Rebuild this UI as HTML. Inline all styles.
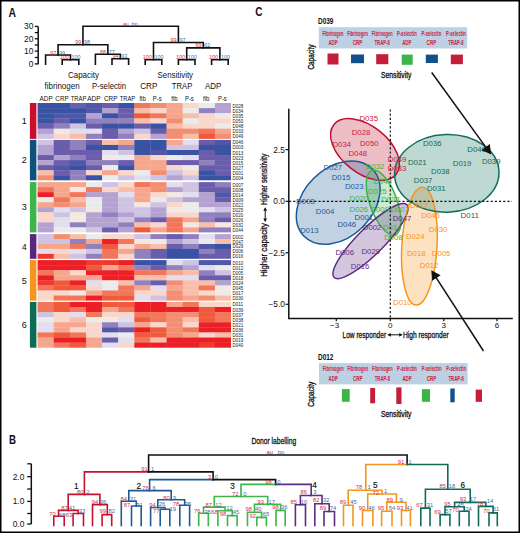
<!DOCTYPE html>
<html><head><meta charset="utf-8"><style>
html,body{margin:0;padding:0;background:#fff;}
body{width:520px;height:533px;overflow:hidden;font-family:"Liberation Sans",sans-serif;}
svg{display:block;}
</style></head><body>
<svg width="520" height="533" viewBox="0 0 520 533">
<rect x="0" y="0" width="520" height="533" fill="#fff"/>
<rect x="29.9" y="103.00" width="6.5" height="35.90" fill="#c8102e"/>
<rect x="37.60" y="103.00" width="16.42" height="5.43" fill="#3853a4"/>
<rect x="53.72" y="103.00" width="16.42" height="5.43" fill="#3853a4"/>
<rect x="69.84" y="103.00" width="16.42" height="5.43" fill="#6a5eac"/>
<rect x="85.96" y="103.00" width="16.42" height="5.43" fill="#5056a8"/>
<rect x="102.08" y="103.00" width="16.42" height="5.43" fill="#6a5eac"/>
<rect x="118.20" y="103.00" width="16.42" height="5.43" fill="#3853a4"/>
<rect x="134.32" y="103.00" width="16.42" height="5.43" fill="#f2765a"/>
<rect x="150.44" y="103.00" width="16.42" height="5.43" fill="#f48e72"/>
<rect x="166.56" y="103.00" width="16.42" height="5.43" fill="#f7a68e"/>
<rect x="182.68" y="103.00" width="16.42" height="5.43" fill="#fad7cb"/>
<rect x="198.80" y="103.00" width="16.42" height="5.43" fill="#ecebec"/>
<rect x="214.92" y="103.00" width="16.12" height="5.43" fill="#b4a3d1"/>
<text x="232.4" y="107.56" font-size="4.7" font-family="Liberation Sans, sans-serif" fill="#222" textLength="10.8" lengthAdjust="spacingAndGlyphs">D028</text>
<rect x="37.60" y="108.13" width="16.42" height="5.43" fill="#3853a4"/>
<rect x="53.72" y="108.13" width="16.42" height="5.43" fill="#3853a4"/>
<rect x="69.84" y="108.13" width="16.42" height="5.43" fill="#3853a4"/>
<rect x="85.96" y="108.13" width="16.42" height="5.43" fill="#5056a8"/>
<rect x="102.08" y="108.13" width="16.42" height="5.43" fill="#b4a3d1"/>
<rect x="118.20" y="108.13" width="16.42" height="5.43" fill="#6a5eac"/>
<rect x="134.32" y="108.13" width="16.42" height="5.43" fill="#f9bea9"/>
<rect x="150.44" y="108.13" width="16.42" height="5.43" fill="#fad7cb"/>
<rect x="166.56" y="108.13" width="16.42" height="5.43" fill="#f7a68e"/>
<rect x="182.68" y="108.13" width="16.42" height="5.43" fill="#ecebec"/>
<rect x="198.80" y="108.13" width="16.42" height="5.43" fill="#9080be"/>
<rect x="214.92" y="108.13" width="16.12" height="5.43" fill="#b4a3d1"/>
<text x="232.4" y="112.69" font-size="4.7" font-family="Liberation Sans, sans-serif" fill="#222" textLength="10.8" lengthAdjust="spacingAndGlyphs">D034</text>
<rect x="37.60" y="113.26" width="16.42" height="5.43" fill="#3853a4"/>
<rect x="53.72" y="113.26" width="16.42" height="5.43" fill="#5056a8"/>
<rect x="69.84" y="113.26" width="16.42" height="5.43" fill="#5056a8"/>
<rect x="85.96" y="113.26" width="16.42" height="5.43" fill="#b4a3d1"/>
<rect x="102.08" y="113.26" width="16.42" height="5.43" fill="#3853a4"/>
<rect x="118.20" y="113.26" width="16.42" height="5.43" fill="#6a5eac"/>
<rect x="134.32" y="113.26" width="16.42" height="5.43" fill="#ef5a3c"/>
<rect x="150.44" y="113.26" width="16.42" height="5.43" fill="#f2765a"/>
<rect x="166.56" y="113.26" width="16.42" height="5.43" fill="#f7a68e"/>
<rect x="182.68" y="113.26" width="16.42" height="5.43" fill="#f9bea9"/>
<rect x="198.80" y="113.26" width="16.42" height="5.43" fill="#fad7cb"/>
<rect x="214.92" y="113.26" width="16.12" height="5.43" fill="#ecebec"/>
<text x="232.4" y="117.82" font-size="4.7" font-family="Liberation Sans, sans-serif" fill="#222" textLength="10.8" lengthAdjust="spacingAndGlyphs">D035</text>
<rect x="37.60" y="118.39" width="16.42" height="5.43" fill="#3853a4"/>
<rect x="53.72" y="118.39" width="16.42" height="5.43" fill="#6a5eac"/>
<rect x="69.84" y="118.39" width="16.42" height="5.43" fill="#3853a4"/>
<rect x="85.96" y="118.39" width="16.42" height="5.43" fill="#9080be"/>
<rect x="102.08" y="118.39" width="16.42" height="5.43" fill="#9080be"/>
<rect x="118.20" y="118.39" width="16.42" height="5.43" fill="#9080be"/>
<rect x="134.32" y="118.39" width="16.42" height="5.43" fill="#f9bea9"/>
<rect x="150.44" y="118.39" width="16.42" height="5.43" fill="#fad7cb"/>
<rect x="166.56" y="118.39" width="16.42" height="5.43" fill="#f48e72"/>
<rect x="182.68" y="118.39" width="16.42" height="5.43" fill="#ecebec"/>
<rect x="198.80" y="118.39" width="16.42" height="5.43" fill="#fad7cb"/>
<rect x="214.92" y="118.39" width="16.12" height="5.43" fill="#fad7cb"/>
<text x="232.4" y="122.95" font-size="4.7" font-family="Liberation Sans, sans-serif" fill="#222" textLength="10.8" lengthAdjust="spacingAndGlyphs">D050</text>
<rect x="37.60" y="123.51" width="16.42" height="5.43" fill="#6a5eac"/>
<rect x="53.72" y="123.51" width="16.42" height="5.43" fill="#9080be"/>
<rect x="69.84" y="123.51" width="16.42" height="5.43" fill="#cec3e2"/>
<rect x="85.96" y="123.51" width="16.42" height="5.43" fill="#6a5eac"/>
<rect x="102.08" y="123.51" width="16.42" height="5.43" fill="#3853a4"/>
<rect x="118.20" y="123.51" width="16.42" height="5.43" fill="#3853a4"/>
<rect x="134.32" y="123.51" width="16.42" height="5.43" fill="#6a5eac"/>
<rect x="150.44" y="123.51" width="16.42" height="5.43" fill="#3853a4"/>
<rect x="166.56" y="123.51" width="16.42" height="5.43" fill="#f9bea9"/>
<rect x="182.68" y="123.51" width="16.42" height="5.43" fill="#fad7cb"/>
<rect x="198.80" y="123.51" width="16.42" height="5.43" fill="#fad7cb"/>
<rect x="214.92" y="123.51" width="16.12" height="5.43" fill="#ecebec"/>
<text x="232.4" y="128.08" font-size="4.7" font-family="Liberation Sans, sans-serif" fill="#222" textLength="10.8" lengthAdjust="spacingAndGlyphs">D048</text>
<rect x="37.60" y="128.64" width="16.42" height="5.43" fill="#b4a3d1"/>
<rect x="53.72" y="128.64" width="16.42" height="5.43" fill="#f5e8e3"/>
<rect x="69.84" y="128.64" width="16.42" height="5.43" fill="#e2ddef"/>
<rect x="85.96" y="128.64" width="16.42" height="5.43" fill="#e2ddef"/>
<rect x="102.08" y="128.64" width="16.42" height="5.43" fill="#6a5eac"/>
<rect x="118.20" y="128.64" width="16.42" height="5.43" fill="#b4a3d1"/>
<rect x="134.32" y="128.64" width="16.42" height="5.43" fill="#cec3e2"/>
<rect x="150.44" y="128.64" width="16.42" height="5.43" fill="#6a5eac"/>
<rect x="166.56" y="128.64" width="16.42" height="5.43" fill="#f48e72"/>
<rect x="182.68" y="128.64" width="16.42" height="5.43" fill="#f48e72"/>
<rect x="198.80" y="128.64" width="16.42" height="5.43" fill="#f2765a"/>
<rect x="214.92" y="128.64" width="16.12" height="5.43" fill="#f7a68e"/>
<text x="232.4" y="133.21" font-size="4.7" font-family="Liberation Sans, sans-serif" fill="#222" textLength="10.8" lengthAdjust="spacingAndGlyphs">D033</text>
<rect x="37.60" y="133.77" width="16.42" height="5.13" fill="#cec3e2"/>
<rect x="53.72" y="133.77" width="16.42" height="5.13" fill="#fad7cb"/>
<rect x="69.84" y="133.77" width="16.42" height="5.13" fill="#f9bea9"/>
<rect x="85.96" y="133.77" width="16.42" height="5.13" fill="#9080be"/>
<rect x="102.08" y="133.77" width="16.42" height="5.13" fill="#6a5eac"/>
<rect x="118.20" y="133.77" width="16.42" height="5.13" fill="#9080be"/>
<rect x="134.32" y="133.77" width="16.42" height="5.13" fill="#fad7cb"/>
<rect x="150.44" y="133.77" width="16.42" height="5.13" fill="#b4a3d1"/>
<rect x="166.56" y="133.77" width="16.42" height="5.13" fill="#f48e72"/>
<rect x="182.68" y="133.77" width="16.42" height="5.13" fill="#f9bea9"/>
<rect x="198.80" y="133.77" width="16.42" height="5.13" fill="#ef5a3c"/>
<rect x="214.92" y="133.77" width="16.12" height="5.13" fill="#f48e72"/>
<text x="232.4" y="138.34" font-size="4.7" font-family="Liberation Sans, sans-serif" fill="#222" textLength="10.8" lengthAdjust="spacingAndGlyphs">D049</text>
<text x="24.2" y="124.15" font-size="9" font-family="Liberation Sans, sans-serif" fill="#111" text-anchor="middle">1</text>
<rect x="29.9" y="139.90" width="6.5" height="40.40" fill="#10507f"/>
<rect x="37.60" y="139.90" width="16.42" height="5.35" fill="#cec3e2"/>
<rect x="53.72" y="139.90" width="16.42" height="5.35" fill="#6a5eac"/>
<rect x="69.84" y="139.90" width="16.42" height="5.35" fill="#9080be"/>
<rect x="85.96" y="139.90" width="16.42" height="5.35" fill="#6a5eac"/>
<rect x="102.08" y="139.90" width="16.42" height="5.35" fill="#f9bea9"/>
<rect x="118.20" y="139.90" width="16.42" height="5.35" fill="#f7a68e"/>
<rect x="134.32" y="139.90" width="16.42" height="5.35" fill="#3853a4"/>
<rect x="150.44" y="139.90" width="16.42" height="5.35" fill="#3853a4"/>
<rect x="166.56" y="139.90" width="16.42" height="5.35" fill="#f7a68e"/>
<rect x="182.68" y="139.90" width="16.42" height="5.35" fill="#e2ddef"/>
<rect x="198.80" y="139.90" width="16.42" height="5.35" fill="#6a5eac"/>
<rect x="214.92" y="139.90" width="16.12" height="5.35" fill="#5056a8"/>
<text x="232.4" y="144.43" font-size="4.7" font-family="Liberation Sans, sans-serif" fill="#222" textLength="10.8" lengthAdjust="spacingAndGlyphs">D046</text>
<rect x="37.60" y="144.95" width="16.42" height="5.35" fill="#b4a3d1"/>
<rect x="53.72" y="144.95" width="16.42" height="5.35" fill="#6a5eac"/>
<rect x="69.84" y="144.95" width="16.42" height="5.35" fill="#9080be"/>
<rect x="85.96" y="144.95" width="16.42" height="5.35" fill="#3853a4"/>
<rect x="102.08" y="144.95" width="16.42" height="5.35" fill="#3853a4"/>
<rect x="118.20" y="144.95" width="16.42" height="5.35" fill="#9080be"/>
<rect x="134.32" y="144.95" width="16.42" height="5.35" fill="#3853a4"/>
<rect x="150.44" y="144.95" width="16.42" height="5.35" fill="#3853a4"/>
<rect x="166.56" y="144.95" width="16.42" height="5.35" fill="#cec3e2"/>
<rect x="182.68" y="144.95" width="16.42" height="5.35" fill="#cec3e2"/>
<rect x="198.80" y="144.95" width="16.42" height="5.35" fill="#3853a4"/>
<rect x="214.92" y="144.95" width="16.12" height="5.35" fill="#3853a4"/>
<text x="232.4" y="149.48" font-size="4.7" font-family="Liberation Sans, sans-serif" fill="#222" textLength="10.8" lengthAdjust="spacingAndGlyphs">D003</text>
<rect x="37.60" y="150.00" width="16.42" height="5.35" fill="#b4a3d1"/>
<rect x="53.72" y="150.00" width="16.42" height="5.35" fill="#6a5eac"/>
<rect x="69.84" y="150.00" width="16.42" height="5.35" fill="#6a5eac"/>
<rect x="85.96" y="150.00" width="16.42" height="5.35" fill="#6a5eac"/>
<rect x="102.08" y="150.00" width="16.42" height="5.35" fill="#e2ddef"/>
<rect x="118.20" y="150.00" width="16.42" height="5.35" fill="#cec3e2"/>
<rect x="134.32" y="150.00" width="16.42" height="5.35" fill="#3853a4"/>
<rect x="150.44" y="150.00" width="16.42" height="5.35" fill="#5056a8"/>
<rect x="166.56" y="150.00" width="16.42" height="5.35" fill="#3853a4"/>
<rect x="182.68" y="150.00" width="16.42" height="5.35" fill="#3853a4"/>
<rect x="198.80" y="150.00" width="16.42" height="5.35" fill="#6a5eac"/>
<rect x="214.92" y="150.00" width="16.12" height="5.35" fill="#3853a4"/>
<text x="232.4" y="154.53" font-size="4.7" font-family="Liberation Sans, sans-serif" fill="#222" textLength="10.8" lengthAdjust="spacingAndGlyphs">D013</text>
<rect x="37.60" y="155.05" width="16.42" height="5.35" fill="#6a5eac"/>
<rect x="53.72" y="155.05" width="16.42" height="5.35" fill="#b4a3d1"/>
<rect x="69.84" y="155.05" width="16.42" height="5.35" fill="#9080be"/>
<rect x="85.96" y="155.05" width="16.42" height="5.35" fill="#6a5eac"/>
<rect x="102.08" y="155.05" width="16.42" height="5.35" fill="#f5e8e3"/>
<rect x="118.20" y="155.05" width="16.42" height="5.35" fill="#ecebec"/>
<rect x="134.32" y="155.05" width="16.42" height="5.35" fill="#f7a68e"/>
<rect x="150.44" y="155.05" width="16.42" height="5.35" fill="#fad7cb"/>
<rect x="166.56" y="155.05" width="16.42" height="5.35" fill="#ecebec"/>
<rect x="182.68" y="155.05" width="16.42" height="5.35" fill="#e2ddef"/>
<rect x="198.80" y="155.05" width="16.42" height="5.35" fill="#6a5eac"/>
<rect x="214.92" y="155.05" width="16.12" height="5.35" fill="#6a5eac"/>
<text x="232.4" y="159.58" font-size="4.7" font-family="Liberation Sans, sans-serif" fill="#222" textLength="10.8" lengthAdjust="spacingAndGlyphs">D023</text>
<rect x="37.60" y="160.10" width="16.42" height="5.35" fill="#b4a3d1"/>
<rect x="53.72" y="160.10" width="16.42" height="5.35" fill="#6a5eac"/>
<rect x="69.84" y="160.10" width="16.42" height="5.35" fill="#5056a8"/>
<rect x="85.96" y="160.10" width="16.42" height="5.35" fill="#9080be"/>
<rect x="102.08" y="160.10" width="16.42" height="5.35" fill="#9080be"/>
<rect x="118.20" y="160.10" width="16.42" height="5.35" fill="#6a5eac"/>
<rect x="134.32" y="160.10" width="16.42" height="5.35" fill="#f7a68e"/>
<rect x="150.44" y="160.10" width="16.42" height="5.35" fill="#f7a68e"/>
<rect x="166.56" y="160.10" width="16.42" height="5.35" fill="#6a5eac"/>
<rect x="182.68" y="160.10" width="16.42" height="5.35" fill="#6a5eac"/>
<rect x="198.80" y="160.10" width="16.42" height="5.35" fill="#9080be"/>
<rect x="214.92" y="160.10" width="16.12" height="5.35" fill="#6a5eac"/>
<text x="232.4" y="164.63" font-size="4.7" font-family="Liberation Sans, sans-serif" fill="#222" textLength="10.8" lengthAdjust="spacingAndGlyphs">D015</text>
<rect x="37.60" y="165.15" width="16.42" height="5.35" fill="#6a5eac"/>
<rect x="53.72" y="165.15" width="16.42" height="5.35" fill="#5056a8"/>
<rect x="69.84" y="165.15" width="16.42" height="5.35" fill="#3853a4"/>
<rect x="85.96" y="165.15" width="16.42" height="5.35" fill="#6a5eac"/>
<rect x="102.08" y="165.15" width="16.42" height="5.35" fill="#ecebec"/>
<rect x="118.20" y="165.15" width="16.42" height="5.35" fill="#3853a4"/>
<rect x="134.32" y="165.15" width="16.42" height="5.35" fill="#f7a68e"/>
<rect x="150.44" y="165.15" width="16.42" height="5.35" fill="#f7a68e"/>
<rect x="166.56" y="165.15" width="16.42" height="5.35" fill="#fad7cb"/>
<rect x="182.68" y="165.15" width="16.42" height="5.35" fill="#ecebec"/>
<rect x="198.80" y="165.15" width="16.42" height="5.35" fill="#6a5eac"/>
<rect x="214.92" y="165.15" width="16.12" height="5.35" fill="#6a5eac"/>
<text x="232.4" y="169.68" font-size="4.7" font-family="Liberation Sans, sans-serif" fill="#222" textLength="10.8" lengthAdjust="spacingAndGlyphs">D027</text>
<rect x="37.60" y="170.20" width="16.42" height="5.35" fill="#f9bea9"/>
<rect x="53.72" y="170.20" width="16.42" height="5.35" fill="#6a5eac"/>
<rect x="69.84" y="170.20" width="16.42" height="5.35" fill="#9080be"/>
<rect x="85.96" y="170.20" width="16.42" height="5.35" fill="#fad7cb"/>
<rect x="102.08" y="170.20" width="16.42" height="5.35" fill="#f7a68e"/>
<rect x="118.20" y="170.20" width="16.42" height="5.35" fill="#fad7cb"/>
<rect x="134.32" y="170.20" width="16.42" height="5.35" fill="#ecebec"/>
<rect x="150.44" y="170.20" width="16.42" height="5.35" fill="#f48e72"/>
<rect x="166.56" y="170.20" width="16.42" height="5.35" fill="#cec3e2"/>
<rect x="182.68" y="170.20" width="16.42" height="5.35" fill="#fad7cb"/>
<rect x="198.80" y="170.20" width="16.42" height="5.35" fill="#3853a4"/>
<rect x="214.92" y="170.20" width="16.12" height="5.35" fill="#6a5eac"/>
<text x="232.4" y="174.73" font-size="4.7" font-family="Liberation Sans, sans-serif" fill="#222" textLength="10.8" lengthAdjust="spacingAndGlyphs">D001</text>
<rect x="37.60" y="175.25" width="16.42" height="5.05" fill="#f48e72"/>
<rect x="53.72" y="175.25" width="16.42" height="5.05" fill="#3853a4"/>
<rect x="69.84" y="175.25" width="16.42" height="5.05" fill="#9080be"/>
<rect x="85.96" y="175.25" width="16.42" height="5.05" fill="#3853a4"/>
<rect x="102.08" y="175.25" width="16.42" height="5.05" fill="#ecebec"/>
<rect x="118.20" y="175.25" width="16.42" height="5.05" fill="#cec3e2"/>
<rect x="134.32" y="175.25" width="16.42" height="5.05" fill="#e2ddef"/>
<rect x="150.44" y="175.25" width="16.42" height="5.05" fill="#cec3e2"/>
<rect x="166.56" y="175.25" width="16.42" height="5.05" fill="#b4a3d1"/>
<rect x="182.68" y="175.25" width="16.42" height="5.05" fill="#cec3e2"/>
<rect x="198.80" y="175.25" width="16.42" height="5.05" fill="#3853a4"/>
<rect x="214.92" y="175.25" width="16.12" height="5.05" fill="#3853a4"/>
<text x="232.4" y="179.78" font-size="4.7" font-family="Liberation Sans, sans-serif" fill="#222" textLength="10.8" lengthAdjust="spacingAndGlyphs">D004</text>
<text x="24.2" y="163.30" font-size="9" font-family="Liberation Sans, sans-serif" fill="#111" text-anchor="middle">2</text>
<rect x="29.9" y="182.10" width="6.5" height="50.30" fill="#3db54a"/>
<rect x="37.60" y="182.10" width="16.42" height="5.33" fill="#f7a68e"/>
<rect x="53.72" y="182.10" width="16.42" height="5.33" fill="#f7a68e"/>
<rect x="69.84" y="182.10" width="16.42" height="5.33" fill="#f7a68e"/>
<rect x="85.96" y="182.10" width="16.42" height="5.33" fill="#ecebec"/>
<rect x="102.08" y="182.10" width="16.42" height="5.33" fill="#cec3e2"/>
<rect x="118.20" y="182.10" width="16.42" height="5.33" fill="#fad7cb"/>
<rect x="134.32" y="182.10" width="16.42" height="5.33" fill="#f2765a"/>
<rect x="150.44" y="182.10" width="16.42" height="5.33" fill="#f48e72"/>
<rect x="166.56" y="182.10" width="16.42" height="5.33" fill="#e2ddef"/>
<rect x="182.68" y="182.10" width="16.42" height="5.33" fill="#cec3e2"/>
<rect x="198.80" y="182.10" width="16.42" height="5.33" fill="#6a5eac"/>
<rect x="214.92" y="182.10" width="16.12" height="5.33" fill="#9080be"/>
<text x="232.4" y="186.62" font-size="4.7" font-family="Liberation Sans, sans-serif" fill="#222" textLength="10.8" lengthAdjust="spacingAndGlyphs">D007</text>
<rect x="37.60" y="187.13" width="16.42" height="5.33" fill="#f2765a"/>
<rect x="53.72" y="187.13" width="16.42" height="5.33" fill="#f7a68e"/>
<rect x="69.84" y="187.13" width="16.42" height="5.33" fill="#f5e8e3"/>
<rect x="85.96" y="187.13" width="16.42" height="5.33" fill="#f2765a"/>
<rect x="102.08" y="187.13" width="16.42" height="5.33" fill="#fad7cb"/>
<rect x="118.20" y="187.13" width="16.42" height="5.33" fill="#f9bea9"/>
<rect x="134.32" y="187.13" width="16.42" height="5.33" fill="#f7a68e"/>
<rect x="150.44" y="187.13" width="16.42" height="5.33" fill="#f48e72"/>
<rect x="166.56" y="187.13" width="16.42" height="5.33" fill="#b4a3d1"/>
<rect x="182.68" y="187.13" width="16.42" height="5.33" fill="#cec3e2"/>
<rect x="198.80" y="187.13" width="16.42" height="5.33" fill="#6a5eac"/>
<rect x="214.92" y="187.13" width="16.12" height="5.33" fill="#6a5eac"/>
<text x="232.4" y="191.64" font-size="4.7" font-family="Liberation Sans, sans-serif" fill="#222" textLength="10.8" lengthAdjust="spacingAndGlyphs">D008</text>
<rect x="37.60" y="192.16" width="16.42" height="5.33" fill="#ec1f27"/>
<rect x="53.72" y="192.16" width="16.42" height="5.33" fill="#f7a68e"/>
<rect x="69.84" y="192.16" width="16.42" height="5.33" fill="#f2765a"/>
<rect x="85.96" y="192.16" width="16.42" height="5.33" fill="#b4a3d1"/>
<rect x="102.08" y="192.16" width="16.42" height="5.33" fill="#b4a3d1"/>
<rect x="118.20" y="192.16" width="16.42" height="5.33" fill="#e2ddef"/>
<rect x="134.32" y="192.16" width="16.42" height="5.33" fill="#f7a68e"/>
<rect x="150.44" y="192.16" width="16.42" height="5.33" fill="#fad7cb"/>
<rect x="166.56" y="192.16" width="16.42" height="5.33" fill="#f5e8e3"/>
<rect x="182.68" y="192.16" width="16.42" height="5.33" fill="#e2ddef"/>
<rect x="198.80" y="192.16" width="16.42" height="5.33" fill="#b4a3d1"/>
<rect x="214.92" y="192.16" width="16.12" height="5.33" fill="#5056a8"/>
<text x="232.4" y="196.68" font-size="4.7" font-family="Liberation Sans, sans-serif" fill="#222" textLength="10.8" lengthAdjust="spacingAndGlyphs">D014</text>
<rect x="37.60" y="197.19" width="16.42" height="5.33" fill="#ecebec"/>
<rect x="53.72" y="197.19" width="16.42" height="5.33" fill="#f2765a"/>
<rect x="69.84" y="197.19" width="16.42" height="5.33" fill="#f9bea9"/>
<rect x="85.96" y="197.19" width="16.42" height="5.33" fill="#ecebec"/>
<rect x="102.08" y="197.19" width="16.42" height="5.33" fill="#b4a3d1"/>
<rect x="118.20" y="197.19" width="16.42" height="5.33" fill="#cec3e2"/>
<rect x="134.32" y="197.19" width="16.42" height="5.33" fill="#f7a68e"/>
<rect x="150.44" y="197.19" width="16.42" height="5.33" fill="#ecebec"/>
<rect x="166.56" y="197.19" width="16.42" height="5.33" fill="#cec3e2"/>
<rect x="182.68" y="197.19" width="16.42" height="5.33" fill="#b4a3d1"/>
<rect x="198.80" y="197.19" width="16.42" height="5.33" fill="#b4a3d1"/>
<rect x="214.92" y="197.19" width="16.12" height="5.33" fill="#6a5eac"/>
<text x="232.4" y="201.70" font-size="4.7" font-family="Liberation Sans, sans-serif" fill="#222" textLength="10.8" lengthAdjust="spacingAndGlyphs">D009</text>
<rect x="37.60" y="202.22" width="16.42" height="5.33" fill="#f7a68e"/>
<rect x="53.72" y="202.22" width="16.42" height="5.33" fill="#f48e72"/>
<rect x="69.84" y="202.22" width="16.42" height="5.33" fill="#f7a68e"/>
<rect x="85.96" y="202.22" width="16.42" height="5.33" fill="#ecebec"/>
<rect x="102.08" y="202.22" width="16.42" height="5.33" fill="#b4a3d1"/>
<rect x="118.20" y="202.22" width="16.42" height="5.33" fill="#cec3e2"/>
<rect x="134.32" y="202.22" width="16.42" height="5.33" fill="#f5e8e3"/>
<rect x="150.44" y="202.22" width="16.42" height="5.33" fill="#cec3e2"/>
<rect x="166.56" y="202.22" width="16.42" height="5.33" fill="#fad7cb"/>
<rect x="182.68" y="202.22" width="16.42" height="5.33" fill="#ecebec"/>
<rect x="198.80" y="202.22" width="16.42" height="5.33" fill="#b4a3d1"/>
<rect x="214.92" y="202.22" width="16.12" height="5.33" fill="#b4a3d1"/>
<text x="232.4" y="206.74" font-size="4.7" font-family="Liberation Sans, sans-serif" fill="#222" textLength="10.8" lengthAdjust="spacingAndGlyphs">D022</text>
<rect x="37.60" y="207.25" width="16.42" height="5.33" fill="#b4a3d1"/>
<rect x="53.72" y="207.25" width="16.42" height="5.33" fill="#e2ddef"/>
<rect x="69.84" y="207.25" width="16.42" height="5.33" fill="#cec3e2"/>
<rect x="85.96" y="207.25" width="16.42" height="5.33" fill="#f5e8e3"/>
<rect x="102.08" y="207.25" width="16.42" height="5.33" fill="#b4a3d1"/>
<rect x="118.20" y="207.25" width="16.42" height="5.33" fill="#cec3e2"/>
<rect x="134.32" y="207.25" width="16.42" height="5.33" fill="#cec3e2"/>
<rect x="150.44" y="207.25" width="16.42" height="5.33" fill="#b4a3d1"/>
<rect x="166.56" y="207.25" width="16.42" height="5.33" fill="#f5e8e3"/>
<rect x="182.68" y="207.25" width="16.42" height="5.33" fill="#ecebec"/>
<rect x="198.80" y="207.25" width="16.42" height="5.33" fill="#e2ddef"/>
<rect x="214.92" y="207.25" width="16.12" height="5.33" fill="#cec3e2"/>
<text x="232.4" y="211.76" font-size="4.7" font-family="Liberation Sans, sans-serif" fill="#222" textLength="10.8" lengthAdjust="spacingAndGlyphs">D025</text>
<rect x="37.60" y="212.28" width="16.42" height="5.33" fill="#fad7cb"/>
<rect x="53.72" y="212.28" width="16.42" height="5.33" fill="#cec3e2"/>
<rect x="69.84" y="212.28" width="16.42" height="5.33" fill="#f5e8e3"/>
<rect x="85.96" y="212.28" width="16.42" height="5.33" fill="#b4a3d1"/>
<rect x="102.08" y="212.28" width="16.42" height="5.33" fill="#9080be"/>
<rect x="118.20" y="212.28" width="16.42" height="5.33" fill="#b4a3d1"/>
<rect x="134.32" y="212.28" width="16.42" height="5.33" fill="#cec3e2"/>
<rect x="150.44" y="212.28" width="16.42" height="5.33" fill="#b4a3d1"/>
<rect x="166.56" y="212.28" width="16.42" height="5.33" fill="#fad7cb"/>
<rect x="182.68" y="212.28" width="16.42" height="5.33" fill="#fad7cb"/>
<rect x="198.80" y="212.28" width="16.42" height="5.33" fill="#9080be"/>
<rect x="214.92" y="212.28" width="16.12" height="5.33" fill="#9080be"/>
<text x="232.4" y="216.80" font-size="4.7" font-family="Liberation Sans, sans-serif" fill="#222" textLength="10.8" lengthAdjust="spacingAndGlyphs">D020</text>
<rect x="37.60" y="217.31" width="16.42" height="5.33" fill="#fad7cb"/>
<rect x="53.72" y="217.31" width="16.42" height="5.33" fill="#e2ddef"/>
<rect x="69.84" y="217.31" width="16.42" height="5.33" fill="#f5e8e3"/>
<rect x="85.96" y="217.31" width="16.42" height="5.33" fill="#b4a3d1"/>
<rect x="102.08" y="217.31" width="16.42" height="5.33" fill="#b4a3d1"/>
<rect x="118.20" y="217.31" width="16.42" height="5.33" fill="#cec3e2"/>
<rect x="134.32" y="217.31" width="16.42" height="5.33" fill="#9080be"/>
<rect x="150.44" y="217.31" width="16.42" height="5.33" fill="#6a5eac"/>
<rect x="166.56" y="217.31" width="16.42" height="5.33" fill="#f2765a"/>
<rect x="182.68" y="217.31" width="16.42" height="5.33" fill="#f7a68e"/>
<rect x="198.80" y="217.31" width="16.42" height="5.33" fill="#9080be"/>
<rect x="214.92" y="217.31" width="16.12" height="5.33" fill="#6a5eac"/>
<text x="232.4" y="221.82" font-size="4.7" font-family="Liberation Sans, sans-serif" fill="#222" textLength="10.8" lengthAdjust="spacingAndGlyphs">D026</text>
<rect x="37.60" y="222.34" width="16.42" height="5.33" fill="#b4a3d1"/>
<rect x="53.72" y="222.34" width="16.42" height="5.33" fill="#e2ddef"/>
<rect x="69.84" y="222.34" width="16.42" height="5.33" fill="#9080be"/>
<rect x="85.96" y="222.34" width="16.42" height="5.33" fill="#b4a3d1"/>
<rect x="102.08" y="222.34" width="16.42" height="5.33" fill="#b4a3d1"/>
<rect x="118.20" y="222.34" width="16.42" height="5.33" fill="#9080be"/>
<rect x="134.32" y="222.34" width="16.42" height="5.33" fill="#f9bea9"/>
<rect x="150.44" y="222.34" width="16.42" height="5.33" fill="#fad7cb"/>
<rect x="166.56" y="222.34" width="16.42" height="5.33" fill="#f2765a"/>
<rect x="182.68" y="222.34" width="16.42" height="5.33" fill="#f5e8e3"/>
<rect x="198.80" y="222.34" width="16.42" height="5.33" fill="#f9bea9"/>
<rect x="214.92" y="222.34" width="16.12" height="5.33" fill="#f5e8e3"/>
<text x="232.4" y="226.86" font-size="4.7" font-family="Liberation Sans, sans-serif" fill="#222" textLength="10.8" lengthAdjust="spacingAndGlyphs">D032</text>
<rect x="37.60" y="227.37" width="16.42" height="5.03" fill="#b4a3d1"/>
<rect x="53.72" y="227.37" width="16.42" height="5.03" fill="#ecebec"/>
<rect x="69.84" y="227.37" width="16.42" height="5.03" fill="#ecebec"/>
<rect x="85.96" y="227.37" width="16.42" height="5.03" fill="#cec3e2"/>
<rect x="102.08" y="227.37" width="16.42" height="5.03" fill="#6a5eac"/>
<rect x="118.20" y="227.37" width="16.42" height="5.03" fill="#b4a3d1"/>
<rect x="134.32" y="227.37" width="16.42" height="5.03" fill="#ef5a3c"/>
<rect x="150.44" y="227.37" width="16.42" height="5.03" fill="#f7a68e"/>
<rect x="166.56" y="227.37" width="16.42" height="5.03" fill="#f2765a"/>
<rect x="182.68" y="227.37" width="16.42" height="5.03" fill="#f7a68e"/>
<rect x="198.80" y="227.37" width="16.42" height="5.03" fill="#9080be"/>
<rect x="214.92" y="227.37" width="16.12" height="5.03" fill="#9080be"/>
<text x="232.4" y="231.88" font-size="4.7" font-family="Liberation Sans, sans-serif" fill="#222" textLength="10.8" lengthAdjust="spacingAndGlyphs">D044</text>
<text x="24.2" y="210.45" font-size="9" font-family="Liberation Sans, sans-serif" fill="#111" text-anchor="middle">3</text>
<rect x="29.9" y="234.10" width="6.5" height="24.70" fill="#58287e"/>
<rect x="37.60" y="234.10" width="16.42" height="5.24" fill="#cec3e2"/>
<rect x="53.72" y="234.10" width="16.42" height="5.24" fill="#f48e72"/>
<rect x="69.84" y="234.10" width="16.42" height="5.24" fill="#f9bea9"/>
<rect x="85.96" y="234.10" width="16.42" height="5.24" fill="#ecebec"/>
<rect x="102.08" y="234.10" width="16.42" height="5.24" fill="#fad7cb"/>
<rect x="118.20" y="234.10" width="16.42" height="5.24" fill="#fad7cb"/>
<rect x="134.32" y="234.10" width="16.42" height="5.24" fill="#cec3e2"/>
<rect x="150.44" y="234.10" width="16.42" height="5.24" fill="#9080be"/>
<rect x="166.56" y="234.10" width="16.42" height="5.24" fill="#6a5eac"/>
<rect x="182.68" y="234.10" width="16.42" height="5.24" fill="#9080be"/>
<rect x="198.80" y="234.10" width="16.42" height="5.24" fill="#e2ddef"/>
<rect x="214.92" y="234.10" width="16.12" height="5.24" fill="#b4a3d1"/>
<text x="232.4" y="238.57" font-size="4.7" font-family="Liberation Sans, sans-serif" fill="#222" textLength="10.8" lengthAdjust="spacingAndGlyphs">D002</text>
<rect x="37.60" y="239.04" width="16.42" height="5.24" fill="#cec3e2"/>
<rect x="53.72" y="239.04" width="16.42" height="5.24" fill="#cec3e2"/>
<rect x="69.84" y="239.04" width="16.42" height="5.24" fill="#9080be"/>
<rect x="85.96" y="239.04" width="16.42" height="5.24" fill="#f7a68e"/>
<rect x="102.08" y="239.04" width="16.42" height="5.24" fill="#ec1f27"/>
<rect x="118.20" y="239.04" width="16.42" height="5.24" fill="#f2765a"/>
<rect x="134.32" y="239.04" width="16.42" height="5.24" fill="#f5e8e3"/>
<rect x="150.44" y="239.04" width="16.42" height="5.24" fill="#ecebec"/>
<rect x="166.56" y="239.04" width="16.42" height="5.24" fill="#b4a3d1"/>
<rect x="182.68" y="239.04" width="16.42" height="5.24" fill="#cec3e2"/>
<rect x="198.80" y="239.04" width="16.42" height="5.24" fill="#ecebec"/>
<rect x="214.92" y="239.04" width="16.12" height="5.24" fill="#f9bea9"/>
<text x="232.4" y="243.51" font-size="4.7" font-family="Liberation Sans, sans-serif" fill="#222" textLength="10.8" lengthAdjust="spacingAndGlyphs">D047</text>
<rect x="37.60" y="243.98" width="16.42" height="5.24" fill="#f7a68e"/>
<rect x="53.72" y="243.98" width="16.42" height="5.24" fill="#f7a68e"/>
<rect x="69.84" y="243.98" width="16.42" height="5.24" fill="#f2765a"/>
<rect x="85.96" y="243.98" width="16.42" height="5.24" fill="#9080be"/>
<rect x="102.08" y="243.98" width="16.42" height="5.24" fill="#ef5a3c"/>
<rect x="118.20" y="243.98" width="16.42" height="5.24" fill="#fad7cb"/>
<rect x="134.32" y="243.98" width="16.42" height="5.24" fill="#f7a68e"/>
<rect x="150.44" y="243.98" width="16.42" height="5.24" fill="#f9bea9"/>
<rect x="166.56" y="243.98" width="16.42" height="5.24" fill="#6a5eac"/>
<rect x="182.68" y="243.98" width="16.42" height="5.24" fill="#9080be"/>
<rect x="198.80" y="243.98" width="16.42" height="5.24" fill="#5056a8"/>
<rect x="214.92" y="243.98" width="16.12" height="5.24" fill="#3853a4"/>
<text x="232.4" y="248.45" font-size="4.7" font-family="Liberation Sans, sans-serif" fill="#222" textLength="10.8" lengthAdjust="spacingAndGlyphs">D029</text>
<rect x="37.60" y="248.92" width="16.42" height="5.24" fill="#e2ddef"/>
<rect x="53.72" y="248.92" width="16.42" height="5.24" fill="#fad7cb"/>
<rect x="69.84" y="248.92" width="16.42" height="5.24" fill="#e2ddef"/>
<rect x="85.96" y="248.92" width="16.42" height="5.24" fill="#cec3e2"/>
<rect x="102.08" y="248.92" width="16.42" height="5.24" fill="#f2765a"/>
<rect x="118.20" y="248.92" width="16.42" height="5.24" fill="#f7a68e"/>
<rect x="134.32" y="248.92" width="16.42" height="5.24" fill="#9080be"/>
<rect x="150.44" y="248.92" width="16.42" height="5.24" fill="#6a5eac"/>
<rect x="166.56" y="248.92" width="16.42" height="5.24" fill="#3853a4"/>
<rect x="182.68" y="248.92" width="16.42" height="5.24" fill="#3853a4"/>
<rect x="198.80" y="248.92" width="16.42" height="5.24" fill="#9080be"/>
<rect x="214.92" y="248.92" width="16.12" height="5.24" fill="#6a5eac"/>
<text x="232.4" y="253.39" font-size="4.7" font-family="Liberation Sans, sans-serif" fill="#222" textLength="10.8" lengthAdjust="spacingAndGlyphs">D006</text>
<rect x="37.60" y="253.86" width="16.42" height="4.94" fill="#ed3a2c"/>
<rect x="53.72" y="253.86" width="16.42" height="4.94" fill="#f9bea9"/>
<rect x="69.84" y="253.86" width="16.42" height="4.94" fill="#cec3e2"/>
<rect x="85.96" y="253.86" width="16.42" height="4.94" fill="#9080be"/>
<rect x="102.08" y="253.86" width="16.42" height="4.94" fill="#f2765a"/>
<rect x="118.20" y="253.86" width="16.42" height="4.94" fill="#fad7cb"/>
<rect x="134.32" y="253.86" width="16.42" height="4.94" fill="#9080be"/>
<rect x="150.44" y="253.86" width="16.42" height="4.94" fill="#6a5eac"/>
<rect x="166.56" y="253.86" width="16.42" height="4.94" fill="#3853a4"/>
<rect x="182.68" y="253.86" width="16.42" height="4.94" fill="#3853a4"/>
<rect x="198.80" y="253.86" width="16.42" height="4.94" fill="#6a5eac"/>
<rect x="214.92" y="253.86" width="16.12" height="4.94" fill="#6a5eac"/>
<text x="232.4" y="258.33" font-size="4.7" font-family="Liberation Sans, sans-serif" fill="#222" textLength="10.8" lengthAdjust="spacingAndGlyphs">D016</text>
<text x="24.2" y="249.65" font-size="9" font-family="Liberation Sans, sans-serif" fill="#111" text-anchor="middle">4</text>
<rect x="29.9" y="260.10" width="6.5" height="40.50" fill="#f7941d"/>
<rect x="37.60" y="260.10" width="16.42" height="5.36" fill="#ec1f27"/>
<rect x="53.72" y="260.10" width="16.42" height="5.36" fill="#ec1f27"/>
<rect x="69.84" y="260.10" width="16.42" height="5.36" fill="#ec1f27"/>
<rect x="85.96" y="260.10" width="16.42" height="5.36" fill="#ed3a2c"/>
<rect x="102.08" y="260.10" width="16.42" height="5.36" fill="#ed3a2c"/>
<rect x="118.20" y="260.10" width="16.42" height="5.36" fill="#ec1f27"/>
<rect x="134.32" y="260.10" width="16.42" height="5.36" fill="#3853a4"/>
<rect x="150.44" y="260.10" width="16.42" height="5.36" fill="#3853a4"/>
<rect x="166.56" y="260.10" width="16.42" height="5.36" fill="#e2ddef"/>
<rect x="182.68" y="260.10" width="16.42" height="5.36" fill="#cec3e2"/>
<rect x="198.80" y="260.10" width="16.42" height="5.36" fill="#5056a8"/>
<rect x="214.92" y="260.10" width="16.12" height="5.36" fill="#5056a8"/>
<text x="232.4" y="264.63" font-size="4.7" font-family="Liberation Sans, sans-serif" fill="#222" textLength="10.8" lengthAdjust="spacingAndGlyphs">D010</text>
<rect x="37.60" y="265.16" width="16.42" height="5.36" fill="#ec1f27"/>
<rect x="53.72" y="265.16" width="16.42" height="5.36" fill="#ec1f27"/>
<rect x="69.84" y="265.16" width="16.42" height="5.36" fill="#ec1f27"/>
<rect x="85.96" y="265.16" width="16.42" height="5.36" fill="#ef5a3c"/>
<rect x="102.08" y="265.16" width="16.42" height="5.36" fill="#f7a68e"/>
<rect x="118.20" y="265.16" width="16.42" height="5.36" fill="#f2765a"/>
<rect x="134.32" y="265.16" width="16.42" height="5.36" fill="#9080be"/>
<rect x="150.44" y="265.16" width="16.42" height="5.36" fill="#6a5eac"/>
<rect x="166.56" y="265.16" width="16.42" height="5.36" fill="#9080be"/>
<rect x="182.68" y="265.16" width="16.42" height="5.36" fill="#b4a3d1"/>
<rect x="198.80" y="265.16" width="16.42" height="5.36" fill="#e2ddef"/>
<rect x="214.92" y="265.16" width="16.12" height="5.36" fill="#ecebec"/>
<text x="232.4" y="269.69" font-size="4.7" font-family="Liberation Sans, sans-serif" fill="#222" textLength="10.8" lengthAdjust="spacingAndGlyphs">D012</text>
<rect x="37.60" y="270.23" width="16.42" height="5.36" fill="#f2765a"/>
<rect x="53.72" y="270.23" width="16.42" height="5.36" fill="#f7a68e"/>
<rect x="69.84" y="270.23" width="16.42" height="5.36" fill="#fad7cb"/>
<rect x="85.96" y="270.23" width="16.42" height="5.36" fill="#ec1f27"/>
<rect x="102.08" y="270.23" width="16.42" height="5.36" fill="#ec1f27"/>
<rect x="118.20" y="270.23" width="16.42" height="5.36" fill="#ec1f27"/>
<rect x="134.32" y="270.23" width="16.42" height="5.36" fill="#f2765a"/>
<rect x="150.44" y="270.23" width="16.42" height="5.36" fill="#f2765a"/>
<rect x="166.56" y="270.23" width="16.42" height="5.36" fill="#f7a68e"/>
<rect x="182.68" y="270.23" width="16.42" height="5.36" fill="#f9bea9"/>
<rect x="198.80" y="270.23" width="16.42" height="5.36" fill="#9080be"/>
<rect x="214.92" y="270.23" width="16.12" height="5.36" fill="#cec3e2"/>
<text x="232.4" y="274.76" font-size="4.7" font-family="Liberation Sans, sans-serif" fill="#222" textLength="10.8" lengthAdjust="spacingAndGlyphs">D005</text>
<rect x="37.60" y="275.29" width="16.42" height="5.36" fill="#ec1f27"/>
<rect x="53.72" y="275.29" width="16.42" height="5.36" fill="#f7a68e"/>
<rect x="69.84" y="275.29" width="16.42" height="5.36" fill="#f7a68e"/>
<rect x="85.96" y="275.29" width="16.42" height="5.36" fill="#f7a68e"/>
<rect x="102.08" y="275.29" width="16.42" height="5.36" fill="#ec1f27"/>
<rect x="118.20" y="275.29" width="16.42" height="5.36" fill="#ec1f27"/>
<rect x="134.32" y="275.29" width="16.42" height="5.36" fill="#f9bea9"/>
<rect x="150.44" y="275.29" width="16.42" height="5.36" fill="#f9bea9"/>
<rect x="166.56" y="275.29" width="16.42" height="5.36" fill="#e2ddef"/>
<rect x="182.68" y="275.29" width="16.42" height="5.36" fill="#e2ddef"/>
<rect x="198.80" y="275.29" width="16.42" height="5.36" fill="#6a5eac"/>
<rect x="214.92" y="275.29" width="16.12" height="5.36" fill="#6a5eac"/>
<text x="232.4" y="279.82" font-size="4.7" font-family="Liberation Sans, sans-serif" fill="#222" textLength="10.8" lengthAdjust="spacingAndGlyphs">D018</text>
<rect x="37.60" y="280.35" width="16.42" height="5.36" fill="#ed3a2c"/>
<rect x="53.72" y="280.35" width="16.42" height="5.36" fill="#ef5a3c"/>
<rect x="69.84" y="280.35" width="16.42" height="5.36" fill="#ec1f27"/>
<rect x="85.96" y="280.35" width="16.42" height="5.36" fill="#e2ddef"/>
<rect x="102.08" y="280.35" width="16.42" height="5.36" fill="#ecebec"/>
<rect x="118.20" y="280.35" width="16.42" height="5.36" fill="#f9bea9"/>
<rect x="134.32" y="280.35" width="16.42" height="5.36" fill="#9080be"/>
<rect x="150.44" y="280.35" width="16.42" height="5.36" fill="#6a5eac"/>
<rect x="166.56" y="280.35" width="16.42" height="5.36" fill="#f48e72"/>
<rect x="182.68" y="280.35" width="16.42" height="5.36" fill="#f9bea9"/>
<rect x="198.80" y="280.35" width="16.42" height="5.36" fill="#f9bea9"/>
<rect x="214.92" y="280.35" width="16.12" height="5.36" fill="#b4a3d1"/>
<text x="232.4" y="284.88" font-size="4.7" font-family="Liberation Sans, sans-serif" fill="#222" textLength="10.8" lengthAdjust="spacingAndGlyphs">D024</text>
<rect x="37.60" y="285.41" width="16.42" height="5.36" fill="#f2765a"/>
<rect x="53.72" y="285.41" width="16.42" height="5.36" fill="#ef5a3c"/>
<rect x="69.84" y="285.41" width="16.42" height="5.36" fill="#ef5a3c"/>
<rect x="85.96" y="285.41" width="16.42" height="5.36" fill="#fad7cb"/>
<rect x="102.08" y="285.41" width="16.42" height="5.36" fill="#ecebec"/>
<rect x="118.20" y="285.41" width="16.42" height="5.36" fill="#f2765a"/>
<rect x="134.32" y="285.41" width="16.42" height="5.36" fill="#f7a68e"/>
<rect x="150.44" y="285.41" width="16.42" height="5.36" fill="#e2ddef"/>
<rect x="166.56" y="285.41" width="16.42" height="5.36" fill="#f7a68e"/>
<rect x="182.68" y="285.41" width="16.42" height="5.36" fill="#f9bea9"/>
<rect x="198.80" y="285.41" width="16.42" height="5.36" fill="#f2765a"/>
<rect x="214.92" y="285.41" width="16.12" height="5.36" fill="#f5e8e3"/>
<text x="232.4" y="289.94" font-size="4.7" font-family="Liberation Sans, sans-serif" fill="#222" textLength="10.8" lengthAdjust="spacingAndGlyphs">D045</text>
<rect x="37.60" y="290.48" width="16.42" height="5.36" fill="#fad7cb"/>
<rect x="53.72" y="290.48" width="16.42" height="5.36" fill="#fad7cb"/>
<rect x="69.84" y="290.48" width="16.42" height="5.36" fill="#f5e8e3"/>
<rect x="85.96" y="290.48" width="16.42" height="5.36" fill="#f7a68e"/>
<rect x="102.08" y="290.48" width="16.42" height="5.36" fill="#f2765a"/>
<rect x="118.20" y="290.48" width="16.42" height="5.36" fill="#f2765a"/>
<rect x="134.32" y="290.48" width="16.42" height="5.36" fill="#fad7cb"/>
<rect x="150.44" y="290.48" width="16.42" height="5.36" fill="#fad7cb"/>
<rect x="166.56" y="290.48" width="16.42" height="5.36" fill="#f48e72"/>
<rect x="182.68" y="290.48" width="16.42" height="5.36" fill="#f9bea9"/>
<rect x="198.80" y="290.48" width="16.42" height="5.36" fill="#fad7cb"/>
<rect x="214.92" y="290.48" width="16.12" height="5.36" fill="#ecebec"/>
<text x="232.4" y="295.01" font-size="4.7" font-family="Liberation Sans, sans-serif" fill="#222" textLength="10.8" lengthAdjust="spacingAndGlyphs">D017</text>
<rect x="37.60" y="295.54" width="16.42" height="5.06" fill="#fad7cb"/>
<rect x="53.72" y="295.54" width="16.42" height="5.06" fill="#f2765a"/>
<rect x="69.84" y="295.54" width="16.42" height="5.06" fill="#f2765a"/>
<rect x="85.96" y="295.54" width="16.42" height="5.06" fill="#ec1f27"/>
<rect x="102.08" y="295.54" width="16.42" height="5.06" fill="#ef5a3c"/>
<rect x="118.20" y="295.54" width="16.42" height="5.06" fill="#ef5a3c"/>
<rect x="134.32" y="295.54" width="16.42" height="5.06" fill="#e2ddef"/>
<rect x="150.44" y="295.54" width="16.42" height="5.06" fill="#cec3e2"/>
<rect x="166.56" y="295.54" width="16.42" height="5.06" fill="#f48e72"/>
<rect x="182.68" y="295.54" width="16.42" height="5.06" fill="#f7a68e"/>
<rect x="198.80" y="295.54" width="16.42" height="5.06" fill="#f48e72"/>
<rect x="214.92" y="295.54" width="16.12" height="5.06" fill="#f9bea9"/>
<text x="232.4" y="300.07" font-size="4.7" font-family="Liberation Sans, sans-serif" fill="#222" textLength="10.8" lengthAdjust="spacingAndGlyphs">D030</text>
<text x="24.2" y="283.55" font-size="9" font-family="Liberation Sans, sans-serif" fill="#111" text-anchor="middle">5</text>
<rect x="29.9" y="301.90" width="6.5" height="45.80" fill="#0e6b55"/>
<rect x="37.60" y="301.90" width="16.42" height="5.39" fill="#f2765a"/>
<rect x="53.72" y="301.90" width="16.42" height="5.39" fill="#ef5a3c"/>
<rect x="69.84" y="301.90" width="16.42" height="5.39" fill="#ec1f27"/>
<rect x="85.96" y="301.90" width="16.42" height="5.39" fill="#ec1f27"/>
<rect x="102.08" y="301.90" width="16.42" height="5.39" fill="#ef5a3c"/>
<rect x="118.20" y="301.90" width="16.42" height="5.39" fill="#ef5a3c"/>
<rect x="134.32" y="301.90" width="16.42" height="5.39" fill="#ec1f27"/>
<rect x="150.44" y="301.90" width="16.42" height="5.39" fill="#ec1f27"/>
<rect x="166.56" y="301.90" width="16.42" height="5.39" fill="#f7a68e"/>
<rect x="182.68" y="301.90" width="16.42" height="5.39" fill="#f2765a"/>
<rect x="198.80" y="301.90" width="16.42" height="5.39" fill="#fad7cb"/>
<rect x="214.92" y="301.90" width="16.12" height="5.39" fill="#fad7cb"/>
<text x="232.4" y="306.44" font-size="4.7" font-family="Liberation Sans, sans-serif" fill="#222" textLength="10.8" lengthAdjust="spacingAndGlyphs">D011</text>
<rect x="37.60" y="306.99" width="16.42" height="5.39" fill="#f2765a"/>
<rect x="53.72" y="306.99" width="16.42" height="5.39" fill="#ef5a3c"/>
<rect x="69.84" y="306.99" width="16.42" height="5.39" fill="#f2765a"/>
<rect x="85.96" y="306.99" width="16.42" height="5.39" fill="#ec1f27"/>
<rect x="102.08" y="306.99" width="16.42" height="5.39" fill="#f7a68e"/>
<rect x="118.20" y="306.99" width="16.42" height="5.39" fill="#f2765a"/>
<rect x="134.32" y="306.99" width="16.42" height="5.39" fill="#ec1f27"/>
<rect x="150.44" y="306.99" width="16.42" height="5.39" fill="#ec1f27"/>
<rect x="166.56" y="306.99" width="16.42" height="5.39" fill="#ec1f27"/>
<rect x="182.68" y="306.99" width="16.42" height="5.39" fill="#ec1f27"/>
<rect x="198.80" y="306.99" width="16.42" height="5.39" fill="#ef5a3c"/>
<rect x="214.92" y="306.99" width="16.12" height="5.39" fill="#ec1f27"/>
<text x="232.4" y="311.53" font-size="4.7" font-family="Liberation Sans, sans-serif" fill="#222" textLength="10.8" lengthAdjust="spacingAndGlyphs">D039</text>
<rect x="37.60" y="312.08" width="16.42" height="5.39" fill="#cec3e2"/>
<rect x="53.72" y="312.08" width="16.42" height="5.39" fill="#fad7cb"/>
<rect x="69.84" y="312.08" width="16.42" height="5.39" fill="#e2ddef"/>
<rect x="85.96" y="312.08" width="16.42" height="5.39" fill="#f2765a"/>
<rect x="102.08" y="312.08" width="16.42" height="5.39" fill="#fad7cb"/>
<rect x="118.20" y="312.08" width="16.42" height="5.39" fill="#fad7cb"/>
<rect x="134.32" y="312.08" width="16.42" height="5.39" fill="#f2765a"/>
<rect x="150.44" y="312.08" width="16.42" height="5.39" fill="#f2765a"/>
<rect x="166.56" y="312.08" width="16.42" height="5.39" fill="#f48e72"/>
<rect x="182.68" y="312.08" width="16.42" height="5.39" fill="#f48e72"/>
<rect x="198.80" y="312.08" width="16.42" height="5.39" fill="#ef5a3c"/>
<rect x="214.92" y="312.08" width="16.12" height="5.39" fill="#f2765a"/>
<text x="232.4" y="316.62" font-size="4.7" font-family="Liberation Sans, sans-serif" fill="#222" textLength="10.8" lengthAdjust="spacingAndGlyphs">D037</text>
<rect x="37.60" y="317.17" width="16.42" height="5.39" fill="#ecebec"/>
<rect x="53.72" y="317.17" width="16.42" height="5.39" fill="#fad7cb"/>
<rect x="69.84" y="317.17" width="16.42" height="5.39" fill="#f9bea9"/>
<rect x="85.96" y="317.17" width="16.42" height="5.39" fill="#ecebec"/>
<rect x="102.08" y="317.17" width="16.42" height="5.39" fill="#f5e8e3"/>
<rect x="118.20" y="317.17" width="16.42" height="5.39" fill="#e2ddef"/>
<rect x="134.32" y="317.17" width="16.42" height="5.39" fill="#ef5a3c"/>
<rect x="150.44" y="317.17" width="16.42" height="5.39" fill="#f2765a"/>
<rect x="166.56" y="317.17" width="16.42" height="5.39" fill="#f48e72"/>
<rect x="182.68" y="317.17" width="16.42" height="5.39" fill="#f9bea9"/>
<rect x="198.80" y="317.17" width="16.42" height="5.39" fill="#ef5a3c"/>
<rect x="214.92" y="317.17" width="16.12" height="5.39" fill="#f2765a"/>
<text x="232.4" y="321.71" font-size="4.7" font-family="Liberation Sans, sans-serif" fill="#222" textLength="10.8" lengthAdjust="spacingAndGlyphs">D038</text>
<rect x="37.60" y="322.26" width="16.42" height="5.39" fill="#e2ddef"/>
<rect x="53.72" y="322.26" width="16.42" height="5.39" fill="#f7a68e"/>
<rect x="69.84" y="322.26" width="16.42" height="5.39" fill="#f7a68e"/>
<rect x="85.96" y="322.26" width="16.42" height="5.39" fill="#fad7cb"/>
<rect x="102.08" y="322.26" width="16.42" height="5.39" fill="#9080be"/>
<rect x="118.20" y="322.26" width="16.42" height="5.39" fill="#cec3e2"/>
<rect x="134.32" y="322.26" width="16.42" height="5.39" fill="#f7a68e"/>
<rect x="150.44" y="322.26" width="16.42" height="5.39" fill="#fad7cb"/>
<rect x="166.56" y="322.26" width="16.42" height="5.39" fill="#f48e72"/>
<rect x="182.68" y="322.26" width="16.42" height="5.39" fill="#fad7cb"/>
<rect x="198.80" y="322.26" width="16.42" height="5.39" fill="#ec1f27"/>
<rect x="214.92" y="322.26" width="16.12" height="5.39" fill="#ec1f27"/>
<text x="232.4" y="326.80" font-size="4.7" font-family="Liberation Sans, sans-serif" fill="#222" textLength="10.8" lengthAdjust="spacingAndGlyphs">D021</text>
<rect x="37.60" y="327.34" width="16.42" height="5.39" fill="#e2ddef"/>
<rect x="53.72" y="327.34" width="16.42" height="5.39" fill="#f7a68e"/>
<rect x="69.84" y="327.34" width="16.42" height="5.39" fill="#fad7cb"/>
<rect x="85.96" y="327.34" width="16.42" height="5.39" fill="#fad7cb"/>
<rect x="102.08" y="327.34" width="16.42" height="5.39" fill="#5056a8"/>
<rect x="118.20" y="327.34" width="16.42" height="5.39" fill="#6a5eac"/>
<rect x="134.32" y="327.34" width="16.42" height="5.39" fill="#ec1f27"/>
<rect x="150.44" y="327.34" width="16.42" height="5.39" fill="#ef5a3c"/>
<rect x="166.56" y="327.34" width="16.42" height="5.39" fill="#f48e72"/>
<rect x="182.68" y="327.34" width="16.42" height="5.39" fill="#f2765a"/>
<rect x="198.80" y="327.34" width="16.42" height="5.39" fill="#ec1f27"/>
<rect x="214.92" y="327.34" width="16.12" height="5.39" fill="#ec1f27"/>
<text x="232.4" y="331.89" font-size="4.7" font-family="Liberation Sans, sans-serif" fill="#222" textLength="10.8" lengthAdjust="spacingAndGlyphs">D036</text>
<rect x="37.60" y="332.43" width="16.42" height="5.39" fill="#f2765a"/>
<rect x="53.72" y="332.43" width="16.42" height="5.39" fill="#ef5a3c"/>
<rect x="69.84" y="332.43" width="16.42" height="5.39" fill="#f2765a"/>
<rect x="85.96" y="332.43" width="16.42" height="5.39" fill="#fad7cb"/>
<rect x="102.08" y="332.43" width="16.42" height="5.39" fill="#e2ddef"/>
<rect x="118.20" y="332.43" width="16.42" height="5.39" fill="#ecebec"/>
<rect x="134.32" y="332.43" width="16.42" height="5.39" fill="#ef5a3c"/>
<rect x="150.44" y="332.43" width="16.42" height="5.39" fill="#ef5a3c"/>
<rect x="166.56" y="332.43" width="16.42" height="5.39" fill="#f48e72"/>
<rect x="182.68" y="332.43" width="16.42" height="5.39" fill="#f7a68e"/>
<rect x="198.80" y="332.43" width="16.42" height="5.39" fill="#fad7cb"/>
<rect x="214.92" y="332.43" width="16.12" height="5.39" fill="#f9bea9"/>
<text x="232.4" y="336.98" font-size="4.7" font-family="Liberation Sans, sans-serif" fill="#222" textLength="10.8" lengthAdjust="spacingAndGlyphs">D031</text>
<rect x="37.60" y="337.52" width="16.42" height="5.39" fill="#f7a68e"/>
<rect x="53.72" y="337.52" width="16.42" height="5.39" fill="#ec1f27"/>
<rect x="69.84" y="337.52" width="16.42" height="5.39" fill="#ec1f27"/>
<rect x="85.96" y="337.52" width="16.42" height="5.39" fill="#f7a68e"/>
<rect x="102.08" y="337.52" width="16.42" height="5.39" fill="#6a5eac"/>
<rect x="118.20" y="337.52" width="16.42" height="5.39" fill="#e2ddef"/>
<rect x="134.32" y="337.52" width="16.42" height="5.39" fill="#f2765a"/>
<rect x="150.44" y="337.52" width="16.42" height="5.39" fill="#f9bea9"/>
<rect x="166.56" y="337.52" width="16.42" height="5.39" fill="#ec1f27"/>
<rect x="182.68" y="337.52" width="16.42" height="5.39" fill="#ec1f27"/>
<rect x="198.80" y="337.52" width="16.42" height="5.39" fill="#ec1f27"/>
<rect x="214.92" y="337.52" width="16.12" height="5.39" fill="#ec1f27"/>
<text x="232.4" y="342.07" font-size="4.7" font-family="Liberation Sans, sans-serif" fill="#222" textLength="10.8" lengthAdjust="spacingAndGlyphs">D019</text>
<rect x="37.60" y="342.61" width="16.42" height="5.09" fill="#f7a68e"/>
<rect x="53.72" y="342.61" width="16.42" height="5.09" fill="#f2765a"/>
<rect x="69.84" y="342.61" width="16.42" height="5.09" fill="#ef5a3c"/>
<rect x="85.96" y="342.61" width="16.42" height="5.09" fill="#f7a68e"/>
<rect x="102.08" y="342.61" width="16.42" height="5.09" fill="#e2ddef"/>
<rect x="118.20" y="342.61" width="16.42" height="5.09" fill="#fad7cb"/>
<rect x="134.32" y="342.61" width="16.42" height="5.09" fill="#ec1f27"/>
<rect x="150.44" y="342.61" width="16.42" height="5.09" fill="#ec1f27"/>
<rect x="166.56" y="342.61" width="16.42" height="5.09" fill="#ec1f27"/>
<rect x="182.68" y="342.61" width="16.42" height="5.09" fill="#ec1f27"/>
<rect x="198.80" y="342.61" width="16.42" height="5.09" fill="#ed3a2c"/>
<rect x="214.92" y="342.61" width="16.12" height="5.09" fill="#ec1f27"/>
<text x="232.4" y="347.16" font-size="4.7" font-family="Liberation Sans, sans-serif" fill="#222" textLength="10.8" lengthAdjust="spacingAndGlyphs">D040</text>
<text x="24.2" y="328.00" font-size="9" font-family="Liberation Sans, sans-serif" fill="#111" text-anchor="middle">6</text>
<path d="M62.20,64.30V59.80H78.80V64.30" fill="none" stroke="#111" stroke-width="1.6" stroke-linecap="square"/>
<text x="68.70" y="59.30" font-size="5.4" font-family="Liberation Sans, sans-serif" fill="#d1303f" text-anchor="end">100</text>
<text x="71.50" y="59.30" font-size="5.4" font-family="Liberation Sans, sans-serif" fill="#3a6ea8">100</text>
<path d="M45.60,64.30V55.00H70.50V59.80" fill="none" stroke="#111" stroke-width="1.6" stroke-linecap="square"/>
<text x="56.25" y="54.50" font-size="5.4" font-family="Liberation Sans, sans-serif" fill="#d1303f" text-anchor="end">97</text>
<text x="59.05" y="54.50" font-size="5.4" font-family="Liberation Sans, sans-serif" fill="#3a6ea8">99</text>
<path d="M112.00,64.30V58.70H128.60V64.30" fill="none" stroke="#111" stroke-width="1.6" stroke-linecap="square"/>
<text x="118.50" y="58.20" font-size="5.4" font-family="Liberation Sans, sans-serif" fill="#d1303f" text-anchor="end">94</text>
<text x="121.30" y="58.20" font-size="5.4" font-family="Liberation Sans, sans-serif" fill="#3a6ea8">93</text>
<path d="M95.40,64.30V54.20H120.30V58.70" fill="none" stroke="#111" stroke-width="1.6" stroke-linecap="square"/>
<text x="106.05" y="53.70" font-size="5.4" font-family="Liberation Sans, sans-serif" fill="#d1303f" text-anchor="end">88</text>
<text x="108.85" y="53.70" font-size="5.4" font-family="Liberation Sans, sans-serif" fill="#3a6ea8">77</text>
<path d="M58.05,55.00V44.80H107.85V54.20" fill="none" stroke="#111" stroke-width="1.6" stroke-linecap="square"/>
<text x="81.15" y="44.30" font-size="5.4" font-family="Liberation Sans, sans-serif" fill="#d1303f" text-anchor="end">99</text>
<text x="83.95" y="44.30" font-size="5.4" font-family="Liberation Sans, sans-serif" fill="#3a6ea8">98</text>
<path d="M145.20,64.30V59.80H161.80V64.30" fill="none" stroke="#111" stroke-width="1.6" stroke-linecap="square"/>
<text x="151.70" y="59.30" font-size="5.4" font-family="Liberation Sans, sans-serif" fill="#d1303f" text-anchor="end">100</text>
<text x="154.50" y="59.30" font-size="5.4" font-family="Liberation Sans, sans-serif" fill="#3a6ea8">100</text>
<path d="M178.40,64.30V59.80H195.00V64.30" fill="none" stroke="#111" stroke-width="1.6" stroke-linecap="square"/>
<text x="184.90" y="59.30" font-size="5.4" font-family="Liberation Sans, sans-serif" fill="#d1303f" text-anchor="end">100</text>
<text x="187.70" y="59.30" font-size="5.4" font-family="Liberation Sans, sans-serif" fill="#3a6ea8">100</text>
<path d="M211.60,64.30V59.80H228.20V64.30" fill="none" stroke="#111" stroke-width="1.6" stroke-linecap="square"/>
<text x="218.10" y="59.30" font-size="5.4" font-family="Liberation Sans, sans-serif" fill="#d1303f" text-anchor="end">100</text>
<text x="220.90" y="59.30" font-size="5.4" font-family="Liberation Sans, sans-serif" fill="#3a6ea8">100</text>
<path d="M186.70,59.80V47.90H219.90V59.80" fill="none" stroke="#111" stroke-width="1.6" stroke-linecap="square"/>
<text x="201.50" y="47.40" font-size="5.4" font-family="Liberation Sans, sans-serif" fill="#d1303f" text-anchor="end">69</text>
<text x="204.30" y="47.40" font-size="5.4" font-family="Liberation Sans, sans-serif" fill="#3a6ea8">62</text>
<path d="M153.50,59.80V42.50H203.30V47.90" fill="none" stroke="#111" stroke-width="1.6" stroke-linecap="square"/>
<text x="176.60" y="42.00" font-size="5.4" font-family="Liberation Sans, sans-serif" fill="#d1303f" text-anchor="end">99</text>
<text x="179.40" y="42.00" font-size="5.4" font-family="Liberation Sans, sans-serif" fill="#3a6ea8">97</text>
<path d="M82.95,44.80V26.30H178.40V42.50" fill="none" stroke="#111" stroke-width="1.6" stroke-linecap="square"/>
<text x="128.88" y="25.80" font-size="5.4" font-family="Liberation Sans, sans-serif" fill="#d1303f" text-anchor="end">au</text>
<text x="131.68" y="25.80" font-size="5.4" font-family="Liberation Sans, sans-serif" fill="#3a6ea8">bp</text>
<line x1="38.20" y1="26.40" x2="38.20" y2="64.20" stroke="#111" stroke-width="1.5"/>
<line x1="34.80" y1="26.40" x2="38.20" y2="26.40" stroke="#111" stroke-width="1.3"/>
<line x1="34.80" y1="32.60" x2="38.20" y2="32.60" stroke="#111" stroke-width="1.3"/>
<line x1="34.80" y1="38.80" x2="38.20" y2="38.80" stroke="#111" stroke-width="1.3"/>
<line x1="34.80" y1="45.00" x2="38.20" y2="45.00" stroke="#111" stroke-width="1.3"/>
<line x1="34.80" y1="51.10" x2="38.20" y2="51.10" stroke="#111" stroke-width="1.3"/>
<line x1="34.80" y1="57.50" x2="38.20" y2="57.50" stroke="#111" stroke-width="1.3"/>
<line x1="34.80" y1="63.90" x2="38.20" y2="63.90" stroke="#111" stroke-width="1.3"/>
<text x="33.3" y="29.30" font-size="8.4" font-family="Liberation Sans, sans-serif" fill="#111" text-anchor="end">30</text>
<text x="33.3" y="41.70" font-size="8.4" font-family="Liberation Sans, sans-serif" fill="#111" text-anchor="end">20</text>
<text x="33.3" y="54.00" font-size="8.4" font-family="Liberation Sans, sans-serif" fill="#111" text-anchor="end">10</text>
<text x="33.3" y="66.80" font-size="8.4" font-family="Liberation Sans, sans-serif" fill="#111" text-anchor="end">0</text>
<text x="83.5" y="77.9" font-size="8.6" font-family="Liberation Sans, sans-serif" fill="#111" text-anchor="middle" textLength="31.2" lengthAdjust="spacingAndGlyphs">Capacity</text>
<text x="175.3" y="77.9" font-size="8.6" font-family="Liberation Sans, sans-serif" fill="#111" text-anchor="middle" textLength="35.5" lengthAdjust="spacingAndGlyphs">Sensitivity</text>
<text x="62.1" y="89.3" font-size="8.8" font-family="Liberation Sans, sans-serif" fill="#111" text-anchor="middle" textLength="35" lengthAdjust="spacingAndGlyphs">fibrinogen</text>
<text x="109" y="89.3" font-size="8.8" font-family="Liberation Sans, sans-serif" fill="#111" text-anchor="middle" textLength="34" lengthAdjust="spacingAndGlyphs">P-selectin</text>
<text x="148.8" y="89.3" font-size="8.8" font-family="Liberation Sans, sans-serif" fill="#111" text-anchor="middle" textLength="17.3" lengthAdjust="spacingAndGlyphs">CRP</text>
<text x="182.1" y="89.3" font-size="8.8" font-family="Liberation Sans, sans-serif" fill="#111" text-anchor="middle" textLength="20.5" lengthAdjust="spacingAndGlyphs">TRAP</text>
<text x="213.1" y="89.3" font-size="8.8" font-family="Liberation Sans, sans-serif" fill="#111" text-anchor="middle" textLength="16.3" lengthAdjust="spacingAndGlyphs">ADP</text>
<text x="46.2" y="100.5" font-size="7.1" font-family="Liberation Sans, sans-serif" fill="#111" text-anchor="middle" textLength="13.2" lengthAdjust="spacingAndGlyphs">ADP</text>
<text x="62" y="100.5" font-size="7.1" font-family="Liberation Sans, sans-serif" fill="#111" text-anchor="middle" textLength="13.4" lengthAdjust="spacingAndGlyphs">CRP</text>
<text x="78.5" y="100.5" font-size="7.1" font-family="Liberation Sans, sans-serif" fill="#111" text-anchor="middle" textLength="15.6" lengthAdjust="spacingAndGlyphs">TRAP</text>
<text x="93.9" y="100.5" font-size="7.1" font-family="Liberation Sans, sans-serif" fill="#111" text-anchor="middle" textLength="13.4" lengthAdjust="spacingAndGlyphs">ADP</text>
<text x="110.7" y="100.5" font-size="7.1" font-family="Liberation Sans, sans-serif" fill="#111" text-anchor="middle" textLength="13.6" lengthAdjust="spacingAndGlyphs">CRP</text>
<text x="127.4" y="100.5" font-size="7.1" font-family="Liberation Sans, sans-serif" fill="#111" text-anchor="middle" textLength="15.4" lengthAdjust="spacingAndGlyphs">TRAP</text>
<text x="142.6" y="100.5" font-size="7.1" font-family="Liberation Sans, sans-serif" fill="#111" text-anchor="middle" textLength="6.3" lengthAdjust="spacingAndGlyphs">fib</text>
<text x="157.2" y="100.5" font-size="7.1" font-family="Liberation Sans, sans-serif" fill="#111" text-anchor="middle" textLength="8.9" lengthAdjust="spacingAndGlyphs">P-s</text>
<text x="174.4" y="100.5" font-size="7.1" font-family="Liberation Sans, sans-serif" fill="#111" text-anchor="middle" textLength="6.3" lengthAdjust="spacingAndGlyphs">fib</text>
<text x="189.4" y="100.5" font-size="7.1" font-family="Liberation Sans, sans-serif" fill="#111" text-anchor="middle" textLength="8.9" lengthAdjust="spacingAndGlyphs">P-s</text>
<text x="206.2" y="100.5" font-size="7.1" font-family="Liberation Sans, sans-serif" fill="#111" text-anchor="middle" textLength="6.3" lengthAdjust="spacingAndGlyphs">fib</text>
<text x="222.4" y="100.5" font-size="7.1" font-family="Liberation Sans, sans-serif" fill="#111" text-anchor="middle" textLength="8.9" lengthAdjust="spacingAndGlyphs">P-s</text>
<text x="8.4" y="17.3" font-size="12" font-weight="bold" font-family="Liberation Sans, sans-serif" fill="#111" textLength="7.5" lengthAdjust="spacingAndGlyphs">A</text>
<text x="8.9" y="443.9" font-size="12" font-weight="bold" font-family="Liberation Sans, sans-serif" fill="#111" textLength="7.0" lengthAdjust="spacingAndGlyphs">B</text>
<text x="255.2" y="16.4" font-size="12" font-weight="bold" font-family="Liberation Sans, sans-serif" fill="#111" textLength="7.2" lengthAdjust="spacingAndGlyphs">C</text>
<ellipse cx="365.0" cy="149.5" rx="39.8" ry="23.5" transform="rotate(38.5 365.0 149.5)" fill="#c2102e" fill-opacity="0.27"/>
<ellipse cx="338.2" cy="202.6" rx="47.9" ry="34.5" transform="rotate(-44.6 338.2 202.6)" fill="#1a5a96" fill-opacity="0.27"/>
<ellipse cx="383.6" cy="202.6" rx="34.3" ry="13.6" transform="rotate(70.0 383.6 202.6)" fill="#3cb44a" fill-opacity="0.27"/>
<ellipse cx="370.5" cy="241.1" rx="51.4" ry="13.3" transform="rotate(-45.0 370.5 241.1)" fill="#5c2d82" fill-opacity="0.27"/>
<ellipse cx="419.4" cy="246.2" rx="59.0" ry="17.6" transform="rotate(-86.8 419.4 246.2)" fill="#f7941d" fill-opacity="0.27"/>
<ellipse cx="446.8" cy="173.4" rx="52.2" ry="38.8" transform="rotate(-2.0 446.8 173.4)" fill="#0e6e5a" fill-opacity="0.27"/>
<ellipse cx="365.0" cy="149.5" rx="39.8" ry="23.5" transform="rotate(38.5 365.0 149.5)" fill="none" stroke="#c2102e" stroke-width="1.5"/>
<ellipse cx="338.2" cy="202.6" rx="47.9" ry="34.5" transform="rotate(-44.6 338.2 202.6)" fill="none" stroke="#1a5a96" stroke-width="1.5"/>
<ellipse cx="383.6" cy="202.6" rx="34.3" ry="13.6" transform="rotate(70.0 383.6 202.6)" fill="none" stroke="#3cb44a" stroke-width="1.5"/>
<ellipse cx="370.5" cy="241.1" rx="51.4" ry="13.3" transform="rotate(-45.0 370.5 241.1)" fill="none" stroke="#5c2d82" stroke-width="1.5"/>
<ellipse cx="419.4" cy="246.2" rx="59.0" ry="17.6" transform="rotate(-86.8 419.4 246.2)" fill="none" stroke="#f7941d" stroke-width="1.5"/>
<ellipse cx="446.8" cy="173.4" rx="52.2" ry="38.8" transform="rotate(-2.0 446.8 173.4)" fill="none" stroke="#0e6e5a" stroke-width="1.5"/>
<line x1="390.3" y1="109.4" x2="390.3" y2="318" stroke="#111" stroke-width="1.2" stroke-dasharray="2.2,2"/>
<line x1="289" y1="201.3" x2="512" y2="201.3" stroke="#111" stroke-width="1.2" stroke-dasharray="2.2,2"/>
<text x="359.4" y="120.90" font-size="8.1" font-family="Liberation Sans, sans-serif" fill="#c41f3c" textLength="18.6" lengthAdjust="spacingAndGlyphs">D035</text>
<text x="351.7" y="134.90" font-size="8.1" font-family="Liberation Sans, sans-serif" fill="#c41f3c" textLength="18.6" lengthAdjust="spacingAndGlyphs">D028</text>
<text x="332.5" y="147.00" font-size="8.1" font-family="Liberation Sans, sans-serif" fill="#c41f3c" textLength="18.6" lengthAdjust="spacingAndGlyphs">D034</text>
<text x="360" y="145.50" font-size="8.1" font-family="Liberation Sans, sans-serif" fill="#c41f3c" textLength="18.6" lengthAdjust="spacingAndGlyphs">D050</text>
<text x="348.5" y="155.70" font-size="8.1" font-family="Liberation Sans, sans-serif" fill="#c41f3c" textLength="18.6" lengthAdjust="spacingAndGlyphs">D048</text>
<text x="387.7" y="162.40" font-size="8.1" font-family="Liberation Sans, sans-serif" fill="#c41f3c" textLength="18.6" lengthAdjust="spacingAndGlyphs">D049</text>
<text x="387.7" y="171.20" font-size="8.1" font-family="Liberation Sans, sans-serif" fill="#c41f3c" textLength="18.6" lengthAdjust="spacingAndGlyphs">D033</text>
<text x="323.5" y="169.90" font-size="8.1" font-family="Liberation Sans, sans-serif" fill="#245a96" textLength="18.6" lengthAdjust="spacingAndGlyphs">D027</text>
<text x="331.7" y="179.70" font-size="8.1" font-family="Liberation Sans, sans-serif" fill="#245a96" textLength="18.6" lengthAdjust="spacingAndGlyphs">D015</text>
<text x="345" y="188.90" font-size="8.1" font-family="Liberation Sans, sans-serif" fill="#245a96" textLength="18.6" lengthAdjust="spacingAndGlyphs">D023</text>
<text x="296" y="203.60" font-size="8.1" font-family="Liberation Sans, sans-serif" fill="#245a96" textLength="18.6" lengthAdjust="spacingAndGlyphs">D003</text>
<text x="315.8" y="213.80" font-size="8.1" font-family="Liberation Sans, sans-serif" fill="#245a96" textLength="18.6" lengthAdjust="spacingAndGlyphs">D004</text>
<text x="337.5" y="226.80" font-size="8.1" font-family="Liberation Sans, sans-serif" fill="#245a96" textLength="18.6" lengthAdjust="spacingAndGlyphs">D046</text>
<text x="354.6" y="220.40" font-size="8.1" font-family="Liberation Sans, sans-serif" fill="#245a96" textLength="18.6" lengthAdjust="spacingAndGlyphs">D001</text>
<text x="300" y="233.00" font-size="8.1" font-family="Liberation Sans, sans-serif" fill="#245a96" textLength="18.6" lengthAdjust="spacingAndGlyphs">D013</text>
<text x="365.8" y="169.40" font-size="8.1" font-family="Liberation Sans, sans-serif" fill="#3cb44a" textLength="18.6" lengthAdjust="spacingAndGlyphs">D032</text>
<text x="373.5" y="184.30" font-size="8.1" font-family="Liberation Sans, sans-serif" fill="#3cb44a" textLength="18.6" lengthAdjust="spacingAndGlyphs">D044</text>
<text x="368" y="194.10" font-size="8.1" font-family="Liberation Sans, sans-serif" fill="#3cb44a" textLength="18.6" lengthAdjust="spacingAndGlyphs">D025</text>
<text x="349.6" y="201.30" font-size="8.1" font-family="Liberation Sans, sans-serif" fill="#3cb44a" textLength="18.6" lengthAdjust="spacingAndGlyphs">D020</text>
<text x="381.2" y="201.50" font-size="8.1" font-family="Liberation Sans, sans-serif" fill="#3cb44a" textLength="18.6" lengthAdjust="spacingAndGlyphs">D022</text>
<text x="349.6" y="211.80" font-size="8.1" font-family="Liberation Sans, sans-serif" fill="#3cb44a" textLength="18.6" lengthAdjust="spacingAndGlyphs">D026</text>
<text x="370.4" y="211.80" font-size="8.1" font-family="Liberation Sans, sans-serif" fill="#3cb44a" textLength="18.6" lengthAdjust="spacingAndGlyphs">D009</text>
<text x="390.4" y="211.80" font-size="8.1" font-family="Liberation Sans, sans-serif" fill="#3cb44a" textLength="18.6" lengthAdjust="spacingAndGlyphs">D007</text>
<text x="382.7" y="229.80" font-size="8.1" font-family="Liberation Sans, sans-serif" fill="#3cb44a" textLength="18.6" lengthAdjust="spacingAndGlyphs">D014</text>
<text x="384" y="240.20" font-size="8.1" font-family="Liberation Sans, sans-serif" fill="#3cb44a" textLength="18.6" lengthAdjust="spacingAndGlyphs">D008</text>
<text x="392.7" y="221.00" font-size="8.1" font-family="Liberation Sans, sans-serif" fill="#642a86" textLength="18.6" lengthAdjust="spacingAndGlyphs">D047</text>
<text x="362.8" y="230.30" font-size="8.1" font-family="Liberation Sans, sans-serif" fill="#642a86" textLength="18.6" lengthAdjust="spacingAndGlyphs">D002</text>
<text x="335.4" y="255.20" font-size="8.1" font-family="Liberation Sans, sans-serif" fill="#642a86" textLength="18.6" lengthAdjust="spacingAndGlyphs">D006</text>
<text x="361.5" y="253.60" font-size="8.1" font-family="Liberation Sans, sans-serif" fill="#642a86" textLength="18.6" lengthAdjust="spacingAndGlyphs">D029</text>
<text x="350.8" y="268.60" font-size="8.1" font-family="Liberation Sans, sans-serif" fill="#642a86" textLength="18.6" lengthAdjust="spacingAndGlyphs">D016</text>
<text x="410" y="208.40" font-size="8.1" font-family="Liberation Sans, sans-serif" fill="#f7941d" textLength="18.6" lengthAdjust="spacingAndGlyphs">D017</text>
<text x="421.2" y="217.80" font-size="8.1" font-family="Liberation Sans, sans-serif" fill="#f7941d" textLength="18.6" lengthAdjust="spacingAndGlyphs">D045</text>
<text x="428.8" y="232.10" font-size="8.1" font-family="Liberation Sans, sans-serif" fill="#f7941d" textLength="18.6" lengthAdjust="spacingAndGlyphs">D030</text>
<text x="406" y="238.50" font-size="8.1" font-family="Liberation Sans, sans-serif" fill="#f7941d" textLength="18.6" lengthAdjust="spacingAndGlyphs">D024</text>
<text x="407" y="255.80" font-size="8.1" font-family="Liberation Sans, sans-serif" fill="#f7941d" textLength="18.6" lengthAdjust="spacingAndGlyphs">D018</text>
<text x="431.8" y="255.80" font-size="8.1" font-family="Liberation Sans, sans-serif" fill="#f7941d" textLength="18.6" lengthAdjust="spacingAndGlyphs">D005</text>
<text x="419.8" y="267.60" font-size="8.1" font-family="Liberation Sans, sans-serif" fill="#f7941d" textLength="18.6" lengthAdjust="spacingAndGlyphs">D012</text>
<text x="393.1" y="305.30" font-size="8.1" font-family="Liberation Sans, sans-serif" fill="#f7941d" textLength="18.6" lengthAdjust="spacingAndGlyphs">D010</text>
<text x="423" y="145.80" font-size="8.1" font-family="Liberation Sans, sans-serif" fill="#106d57" textLength="18.6" lengthAdjust="spacingAndGlyphs">D036</text>
<text x="467.3" y="152.00" font-size="8.1" font-family="Liberation Sans, sans-serif" fill="#106d57" textLength="18.6" lengthAdjust="spacingAndGlyphs">D040</text>
<text x="481.9" y="164.00" font-size="8.1" font-family="Liberation Sans, sans-serif" fill="#106d57" textLength="18.6" lengthAdjust="spacingAndGlyphs">D039</text>
<text x="408" y="165.00" font-size="8.1" font-family="Liberation Sans, sans-serif" fill="#106d57" textLength="18.6" lengthAdjust="spacingAndGlyphs">D021</text>
<text x="452.8" y="165.80" font-size="8.1" font-family="Liberation Sans, sans-serif" fill="#106d57" textLength="18.6" lengthAdjust="spacingAndGlyphs">D019</text>
<text x="431.1" y="174.00" font-size="8.1" font-family="Liberation Sans, sans-serif" fill="#106d57" textLength="18.6" lengthAdjust="spacingAndGlyphs">D038</text>
<text x="413.8" y="182.80" font-size="8.1" font-family="Liberation Sans, sans-serif" fill="#106d57" textLength="18.6" lengthAdjust="spacingAndGlyphs">D037</text>
<text x="427" y="190.80" font-size="8.1" font-family="Liberation Sans, sans-serif" fill="#106d57" textLength="18.6" lengthAdjust="spacingAndGlyphs">D031</text>
<text x="460.4" y="217.80" font-size="8.1" font-family="Liberation Sans, sans-serif" fill="#106d57" textLength="18.6" lengthAdjust="spacingAndGlyphs">D011</text>
<path d="M288.8,109.4V318.6H512" fill="none" stroke="#111" stroke-width="1.5" stroke-linecap="square"/>
<line x1="285.50" y1="149.60" x2="288.80" y2="149.60" stroke="#111" stroke-width="1.2"/>
<text x="284.9" y="152.50" font-size="8.3" font-family="Liberation Sans, sans-serif" fill="#111" text-anchor="end">2.5</text>
<line x1="285.50" y1="201.30" x2="288.80" y2="201.30" stroke="#111" stroke-width="1.2"/>
<text x="284.9" y="204.20" font-size="8.3" font-family="Liberation Sans, sans-serif" fill="#111" text-anchor="end">0.0</text>
<line x1="285.50" y1="252.80" x2="288.80" y2="252.80" stroke="#111" stroke-width="1.2"/>
<text x="284.9" y="255.70" font-size="8.3" font-family="Liberation Sans, sans-serif" fill="#111" text-anchor="end">−2.5</text>
<line x1="285.50" y1="304.30" x2="288.80" y2="304.30" stroke="#111" stroke-width="1.2"/>
<text x="284.9" y="307.20" font-size="8.3" font-family="Liberation Sans, sans-serif" fill="#111" text-anchor="end">−5.0</text>
<line x1="336.30" y1="318.60" x2="336.30" y2="321.30" stroke="#111" stroke-width="1.2"/>
<text x="334.7" y="328.1" font-size="8.1" font-family="Liberation Sans, sans-serif" fill="#111" text-anchor="middle">−3</text>
<line x1="390.30" y1="318.60" x2="390.30" y2="321.30" stroke="#111" stroke-width="1.2"/>
<text x="390.3" y="328.1" font-size="8.1" font-family="Liberation Sans, sans-serif" fill="#111" text-anchor="middle">0</text>
<line x1="443.80" y1="318.60" x2="443.80" y2="321.30" stroke="#111" stroke-width="1.2"/>
<text x="443.8" y="328.1" font-size="8.1" font-family="Liberation Sans, sans-serif" fill="#111" text-anchor="middle">3</text>
<line x1="497.00" y1="318.60" x2="497.00" y2="321.30" stroke="#111" stroke-width="1.2"/>
<text x="497" y="328.1" font-size="8.1" font-family="Liberation Sans, sans-serif" fill="#111" text-anchor="middle">6</text>
<text x="342.5" y="337.6" font-size="9.2" font-family="Liberation Sans, sans-serif" fill="#111" stroke="#111" stroke-width="0.3" textLength="43.6" lengthAdjust="spacingAndGlyphs">Low responder</text>
<text x="402.9" y="337.6" font-size="9.2" font-family="Liberation Sans, sans-serif" fill="#111" stroke="#111" stroke-width="0.3" textLength="45.8" lengthAdjust="spacingAndGlyphs">High responder</text>
<path d="M388.4,334.8H401.6" fill="none" stroke="#111" stroke-width="1.0" stroke-linecap="square"/>
<path d="M387.6,334.8l3.2,-1.9v3.8z M402.4,334.8l-3.2,-1.9v3.8z" fill="#111"/>
<g transform="translate(266.6,0) rotate(-90)"><text x="-276.8" y="0" font-size="9.0" font-family="Liberation Sans, sans-serif" fill="#111" stroke="#111" stroke-width="0.3" textLength="53.6" lengthAdjust="spacingAndGlyphs">Higher capacity</text><text x="-204.9" y="0" font-size="9.0" font-family="Liberation Sans, sans-serif" fill="#111" stroke="#111" stroke-width="0.3" textLength="51.2" lengthAdjust="spacingAndGlyphs">Higher sensitivity</text></g>
<path d="M265.2,208.3V221" fill="none" stroke="#111" stroke-width="1.0" stroke-linecap="square"/>
<path d="M265.2,207.5l-1.9,3.2h3.8z M265.2,221.8l-1.9,-3.2h3.8z" fill="#111"/>
<text x="318" y="23.6" font-size="9.0" font-weight="bold" font-family="Liberation Sans, sans-serif" fill="#111" textLength="15.4" lengthAdjust="spacingAndGlyphs">D039</text>
<rect x="318.8" y="27.2" width="148.39999999999998" height="21.3" fill="#bcd2e4"/>
<text x="333.0" y="35.5" font-size="7.3" font-weight="bold" font-family="Liberation Sans, sans-serif" fill="#c8203a" text-anchor="middle" textLength="20.8" lengthAdjust="spacingAndGlyphs">Fibrinogen</text>
<text x="333.0" y="45.4" font-size="7.3" font-weight="bold" font-family="Liberation Sans, sans-serif" fill="#c8203a" text-anchor="middle" textLength="9.2" lengthAdjust="spacingAndGlyphs">ADP</text>
<text x="357.6" y="35.5" font-size="7.3" font-weight="bold" font-family="Liberation Sans, sans-serif" fill="#c8203a" text-anchor="middle" textLength="20.8" lengthAdjust="spacingAndGlyphs">Fibrinogen</text>
<text x="357.6" y="45.4" font-size="7.3" font-weight="bold" font-family="Liberation Sans, sans-serif" fill="#c8203a" text-anchor="middle" textLength="9.6" lengthAdjust="spacingAndGlyphs">CRP</text>
<text x="382.2" y="35.5" font-size="7.3" font-weight="bold" font-family="Liberation Sans, sans-serif" fill="#c8203a" text-anchor="middle" textLength="20.8" lengthAdjust="spacingAndGlyphs">Fibrinogen</text>
<text x="382.2" y="45.4" font-size="7.3" font-weight="bold" font-family="Liberation Sans, sans-serif" fill="#c8203a" text-anchor="middle" textLength="15.4" lengthAdjust="spacingAndGlyphs">TRAP-6</text>
<text x="406.8" y="35.5" font-size="7.3" font-weight="bold" font-family="Liberation Sans, sans-serif" fill="#c8203a" text-anchor="middle" textLength="19.8" lengthAdjust="spacingAndGlyphs">P-selectin</text>
<text x="406.8" y="45.4" font-size="7.3" font-weight="bold" font-family="Liberation Sans, sans-serif" fill="#c8203a" text-anchor="middle" textLength="9.2" lengthAdjust="spacingAndGlyphs">ADP</text>
<text x="431.4" y="35.5" font-size="7.3" font-weight="bold" font-family="Liberation Sans, sans-serif" fill="#c8203a" text-anchor="middle" textLength="19.8" lengthAdjust="spacingAndGlyphs">P-selectin</text>
<text x="431.4" y="45.4" font-size="7.3" font-weight="bold" font-family="Liberation Sans, sans-serif" fill="#c8203a" text-anchor="middle" textLength="9.6" lengthAdjust="spacingAndGlyphs">CRP</text>
<text x="456.0" y="35.5" font-size="7.3" font-weight="bold" font-family="Liberation Sans, sans-serif" fill="#c8203a" text-anchor="middle" textLength="19.8" lengthAdjust="spacingAndGlyphs">P-selectin</text>
<text x="456.0" y="45.4" font-size="7.3" font-weight="bold" font-family="Liberation Sans, sans-serif" fill="#c8203a" text-anchor="middle" textLength="15.4" lengthAdjust="spacingAndGlyphs">TRAP-6</text>
<g transform="translate(313.6,69.6) rotate(-90)"><text x="0" y="0" font-size="9.4" font-family="Liberation Sans, sans-serif" fill="#111" stroke="#111" stroke-width="0.35" textLength="25.2" lengthAdjust="spacingAndGlyphs">Capacity</text></g>
<text x="381" y="78.4" font-size="9.4" font-family="Liberation Sans, sans-serif" fill="#111" stroke="#111" stroke-width="0.35" textLength="30.4" lengthAdjust="spacingAndGlyphs">Sensitivity</text>
<rect x="327.5" y="53.5" width="11.0" height="11.0" fill="#c41e3a"/>
<rect x="351" y="54.5" width="13.0" height="8.7" fill="#11508a"/>
<rect x="376.2" y="54.2" width="12.1" height="10.0" fill="#c41e3a"/>
<rect x="401.7" y="54.6" width="11.0" height="10.2" fill="#3ab54a"/>
<rect x="425.8" y="54.6" width="12.1" height="8.4" fill="#11508a"/>
<rect x="450.8" y="54.6" width="12.1" height="9.6" fill="#c41e3a"/>
<text x="318" y="359.8" font-size="9.0" font-weight="bold" font-family="Liberation Sans, sans-serif" fill="#111" textLength="15.4" lengthAdjust="spacingAndGlyphs">D012</text>
<rect x="319" y="363.1" width="148.60000000000002" height="21.299999999999955" fill="#bcd2e4"/>
<text x="333.2" y="371.4" font-size="7.3" font-weight="bold" font-family="Liberation Sans, sans-serif" fill="#c8203a" text-anchor="middle" textLength="20.8" lengthAdjust="spacingAndGlyphs">Fibrinogen</text>
<text x="333.2" y="381.3" font-size="7.3" font-weight="bold" font-family="Liberation Sans, sans-serif" fill="#c8203a" text-anchor="middle" textLength="9.2" lengthAdjust="spacingAndGlyphs">ADP</text>
<text x="357.8" y="371.4" font-size="7.3" font-weight="bold" font-family="Liberation Sans, sans-serif" fill="#c8203a" text-anchor="middle" textLength="20.8" lengthAdjust="spacingAndGlyphs">Fibrinogen</text>
<text x="357.8" y="381.3" font-size="7.3" font-weight="bold" font-family="Liberation Sans, sans-serif" fill="#c8203a" text-anchor="middle" textLength="9.6" lengthAdjust="spacingAndGlyphs">CRP</text>
<text x="382.4" y="371.4" font-size="7.3" font-weight="bold" font-family="Liberation Sans, sans-serif" fill="#c8203a" text-anchor="middle" textLength="20.8" lengthAdjust="spacingAndGlyphs">Fibrinogen</text>
<text x="382.4" y="381.3" font-size="7.3" font-weight="bold" font-family="Liberation Sans, sans-serif" fill="#c8203a" text-anchor="middle" textLength="15.4" lengthAdjust="spacingAndGlyphs">TRAP-6</text>
<text x="407.0" y="371.4" font-size="7.3" font-weight="bold" font-family="Liberation Sans, sans-serif" fill="#c8203a" text-anchor="middle" textLength="19.8" lengthAdjust="spacingAndGlyphs">P-selectin</text>
<text x="407.0" y="381.3" font-size="7.3" font-weight="bold" font-family="Liberation Sans, sans-serif" fill="#c8203a" text-anchor="middle" textLength="9.2" lengthAdjust="spacingAndGlyphs">ADP</text>
<text x="431.6" y="371.4" font-size="7.3" font-weight="bold" font-family="Liberation Sans, sans-serif" fill="#c8203a" text-anchor="middle" textLength="19.8" lengthAdjust="spacingAndGlyphs">P-selectin</text>
<text x="431.6" y="381.3" font-size="7.3" font-weight="bold" font-family="Liberation Sans, sans-serif" fill="#c8203a" text-anchor="middle" textLength="9.6" lengthAdjust="spacingAndGlyphs">CRP</text>
<text x="456.2" y="371.4" font-size="7.3" font-weight="bold" font-family="Liberation Sans, sans-serif" fill="#c8203a" text-anchor="middle" textLength="19.8" lengthAdjust="spacingAndGlyphs">P-selectin</text>
<text x="456.2" y="381.3" font-size="7.3" font-weight="bold" font-family="Liberation Sans, sans-serif" fill="#c8203a" text-anchor="middle" textLength="15.4" lengthAdjust="spacingAndGlyphs">TRAP-6</text>
<g transform="translate(313.8,406.7) rotate(-90)"><text x="0" y="0" font-size="9.4" font-family="Liberation Sans, sans-serif" fill="#111" stroke="#111" stroke-width="0.35" textLength="25.0" lengthAdjust="spacingAndGlyphs">Capacity</text></g>
<text x="381" y="417" font-size="9.4" font-family="Liberation Sans, sans-serif" fill="#111" stroke="#111" stroke-width="0.35" textLength="30.4" lengthAdjust="spacingAndGlyphs">Sensitivity</text>
<rect x="341.9" y="389.1" width="7.8" height="12.7" fill="#3ab54a"/>
<rect x="370.2" y="388" width="4.9" height="15.3" fill="#c41e3a"/>
<rect x="396.3" y="387.4" width="5.2" height="16.6" fill="#c41e3a"/>
<rect x="421.9" y="389.2" width="8.1" height="12.6" fill="#3ab54a"/>
<rect x="450.3" y="388.5" width="4.4" height="13.8" fill="#11508a"/>
<rect x="475.7" y="389.6" width="6.3" height="12.2" fill="#c41e3a"/>
<line x1="431.7" y1="72.5" x2="486.86" y2="148.61" stroke="#111" stroke-width="1.5"/>
<path d="M491.20,154.60L481.55,149.98L489.81,144.00z" fill="#111"/>
<line x1="483.5" y1="351" x2="435.32" y2="276.42" stroke="#111" stroke-width="1.5"/>
<path d="M431.30,270.20L440.68,275.33L432.12,280.86z" fill="#111"/>
<text x="251.4" y="444.2" font-size="9.8" font-family="Liberation Sans, sans-serif" fill="#111" stroke="#111" stroke-width="0.3" textLength="44.9" lengthAdjust="spacingAndGlyphs">Donor labelling</text>
<line x1="31.30" y1="463.80" x2="31.30" y2="524.00" stroke="#111" stroke-width="1.5"/>
<line x1="27.20" y1="463.80" x2="31.30" y2="463.80" stroke="#111" stroke-width="1.3"/>
<line x1="27.20" y1="476.70" x2="31.30" y2="476.70" stroke="#111" stroke-width="1.3"/>
<line x1="27.20" y1="489.00" x2="31.30" y2="489.00" stroke="#111" stroke-width="1.3"/>
<line x1="27.20" y1="501.40" x2="31.30" y2="501.40" stroke="#111" stroke-width="1.3"/>
<line x1="27.20" y1="513.50" x2="31.30" y2="513.50" stroke="#111" stroke-width="1.3"/>
<line x1="27.20" y1="524.00" x2="31.30" y2="524.00" stroke="#111" stroke-width="1.3"/>
<text x="24.3" y="479.60" font-size="8.4" font-family="Liberation Sans, sans-serif" fill="#111" text-anchor="end">2.0</text>
<text x="24.3" y="504.30" font-size="8.4" font-family="Liberation Sans, sans-serif" fill="#111" text-anchor="end">1.0</text>
<text x="24.3" y="526.90" font-size="8.4" font-family="Liberation Sans, sans-serif" fill="#111" text-anchor="end">0.0</text>
<path d="M53.80,525.50V516.20H64.20V525.50" fill="none" stroke="#c8102e" stroke-width="1.6" stroke-linecap="square"/>
<path d="M73.10,525.50V513.50H83.50V525.50" fill="none" stroke="#c8102e" stroke-width="1.6" stroke-linecap="square"/>
<path d="M58.50,516.20V510.40H78.10V513.50" fill="none" stroke="#c8102e" stroke-width="1.6" stroke-linecap="square"/>
<path d="M102.10,525.50V514.60H111.70V525.50" fill="none" stroke="#c8102e" stroke-width="1.6" stroke-linecap="square"/>
<path d="M92.50,525.50V504.60H107.30V514.60" fill="none" stroke="#c8102e" stroke-width="1.6" stroke-linecap="square"/>
<path d="M68.20,510.40V494.40H99.90V504.60" fill="none" stroke="#c8102e" stroke-width="1.6" stroke-linecap="square"/>
<text x="52.60" y="515.90" font-size="5.8" font-family="Liberation Sans, sans-serif" fill="#d1303f" text-anchor="middle">70</text>
<text x="64.40" y="510.00" font-size="5.8" font-family="Liberation Sans, sans-serif" fill="#d1303f" text-anchor="middle">87</text>
<text x="72.00" y="510.00" font-size="5.8" font-family="Liberation Sans, sans-serif" fill="#3a6ea8" text-anchor="middle">41</text>
<text x="62.20" y="516.70" font-size="5.8" font-family="Liberation Sans, sans-serif" fill="#3a6ea8" text-anchor="middle">68</text>
<text x="68.90" y="516.70" font-size="5.8" font-family="Liberation Sans, sans-serif" fill="#d1303f" text-anchor="middle">63</text>
<text x="81.90" y="512.90" font-size="5.8" font-family="Liberation Sans, sans-serif" fill="#3a6ea8" text-anchor="middle">33</text>
<text x="95.00" y="503.60" font-size="5.8" font-family="Liberation Sans, sans-serif" fill="#d1303f" text-anchor="middle">94</text>
<text x="103.00" y="503.60" font-size="5.8" font-family="Liberation Sans, sans-serif" fill="#3a6ea8" text-anchor="middle">36</text>
<text x="102.70" y="512.90" font-size="5.8" font-family="Liberation Sans, sans-serif" fill="#d1303f" text-anchor="middle">99</text>
<text x="111.70" y="512.90" font-size="5.8" font-family="Liberation Sans, sans-serif" fill="#3a6ea8" text-anchor="middle">82</text>
<text x="80.30" y="493.80" font-size="5.8" font-family="Liberation Sans, sans-serif" fill="#d1303f" text-anchor="middle">80</text>
<text x="87.80" y="493.80" font-size="5.8" font-family="Liberation Sans, sans-serif" fill="#3a6ea8" text-anchor="middle">2</text>
<text x="76.20" y="488.60" font-size="8.2" font-family="Liberation Sans, sans-serif" fill="#111" stroke="#111" stroke-width="0.15" text-anchor="middle">1</text>
<path d="M131.50,525.50V506.00H141.20V525.50" fill="none" stroke="#1f5a94" stroke-width="1.6" stroke-linecap="square"/>
<path d="M121.30,525.50V501.20H136.30V506.00" fill="none" stroke="#1f5a94" stroke-width="1.6" stroke-linecap="square"/>
<path d="M160.20,525.50V509.20H169.80V525.50" fill="none" stroke="#1f5a94" stroke-width="1.6" stroke-linecap="square"/>
<path d="M150.60,525.50V507.50H165.00V509.20" fill="none" stroke="#1f5a94" stroke-width="1.6" stroke-linecap="square"/>
<path d="M179.80,525.50V505.20H189.60V525.50" fill="none" stroke="#1f5a94" stroke-width="1.6" stroke-linecap="square"/>
<path d="M157.80,507.50V499.80H184.70V505.20" fill="none" stroke="#1f5a94" stroke-width="1.6" stroke-linecap="square"/>
<path d="M128.80,501.20V490.60H171.20V499.80" fill="none" stroke="#1f5a94" stroke-width="1.6" stroke-linecap="square"/>
<text x="145.40" y="490.10" font-size="5.8" font-family="Liberation Sans, sans-serif" fill="#d1303f" text-anchor="middle">76</text>
<text x="154.00" y="490.10" font-size="5.8" font-family="Liberation Sans, sans-serif" fill="#3a6ea8" text-anchor="middle">6</text>
<text x="123.80" y="500.80" font-size="5.8" font-family="Liberation Sans, sans-serif" fill="#d1303f" text-anchor="middle">84</text>
<text x="132.90" y="500.80" font-size="5.8" font-family="Liberation Sans, sans-serif" fill="#3a6ea8" text-anchor="middle">31</text>
<text x="127.00" y="506.70" font-size="5.8" font-family="Liberation Sans, sans-serif" fill="#d1303f" text-anchor="middle">87</text>
<text x="139.60" y="506.70" font-size="5.8" font-family="Liberation Sans, sans-serif" fill="#3a6ea8" text-anchor="middle">31</text>
<text x="166.50" y="499.60" font-size="5.8" font-family="Liberation Sans, sans-serif" fill="#d1303f" text-anchor="middle">80</text>
<text x="174.60" y="499.60" font-size="5.8" font-family="Liberation Sans, sans-serif" fill="#3a6ea8" text-anchor="middle">9</text>
<text x="152.50" y="506.60" font-size="5.8" font-family="Liberation Sans, sans-serif" fill="#d1303f" text-anchor="middle">94</text>
<text x="162.10" y="506.40" font-size="5.8" font-family="Liberation Sans, sans-serif" fill="#3a6ea8" text-anchor="middle">26</text>
<text x="156.30" y="513.40" font-size="5.8" font-family="Liberation Sans, sans-serif" fill="#d1303f" text-anchor="middle">77</text>
<text x="172.70" y="510.80" font-size="5.8" font-family="Liberation Sans, sans-serif" fill="#3a6ea8" text-anchor="middle">19</text>
<text x="176.00" y="505.80" font-size="5.8" font-family="Liberation Sans, sans-serif" fill="#d1303f" text-anchor="middle">78</text>
<text x="188.00" y="505.80" font-size="5.8" font-family="Liberation Sans, sans-serif" fill="#3a6ea8" text-anchor="middle">35</text>
<text x="138.70" y="489.00" font-size="8.2" font-family="Liberation Sans, sans-serif" fill="#111" stroke="#111" stroke-width="0.15" text-anchor="middle">2</text>
<path d="M198.70,525.50V513.30H208.30V525.50" fill="none" stroke="#3db54a" stroke-width="1.6" stroke-linecap="square"/>
<path d="M227.50,525.50V515.60H237.10V525.50" fill="none" stroke="#3db54a" stroke-width="1.6" stroke-linecap="square"/>
<path d="M217.90,525.50V510.80H232.30V515.60" fill="none" stroke="#3db54a" stroke-width="1.6" stroke-linecap="square"/>
<path d="M203.50,513.30V507.10H225.10V510.80" fill="none" stroke="#3db54a" stroke-width="1.6" stroke-linecap="square"/>
<path d="M256.80,525.50V517.40H266.40V525.50" fill="none" stroke="#3db54a" stroke-width="1.6" stroke-linecap="square"/>
<path d="M247.50,525.50V512.20H261.60V517.40" fill="none" stroke="#3db54a" stroke-width="1.6" stroke-linecap="square"/>
<path d="M276.00,525.50V510.40H285.20V525.50" fill="none" stroke="#3db54a" stroke-width="1.6" stroke-linecap="square"/>
<path d="M254.50,512.20V504.30H280.60V510.40" fill="none" stroke="#3db54a" stroke-width="1.6" stroke-linecap="square"/>
<path d="M214.30,507.10V496.50H267.70V504.60" fill="none" stroke="#3db54a" stroke-width="1.6" stroke-linecap="square"/>
<text x="235.20" y="495.80" font-size="5.8" font-family="Liberation Sans, sans-serif" fill="#d1303f" text-anchor="middle">72</text>
<text x="244.80" y="495.80" font-size="5.8" font-family="Liberation Sans, sans-serif" fill="#3a6ea8" text-anchor="middle">0</text>
<text x="208.80" y="506.90" font-size="5.8" font-family="Liberation Sans, sans-serif" fill="#d1303f" text-anchor="middle">87</text>
<text x="218.50" y="506.90" font-size="5.8" font-family="Liberation Sans, sans-serif" fill="#3a6ea8" text-anchor="middle">12</text>
<text x="197.30" y="512.50" font-size="5.8" font-family="Liberation Sans, sans-serif" fill="#d1303f" text-anchor="middle">76</text>
<text x="207.70" y="513.60" font-size="5.8" font-family="Liberation Sans, sans-serif" fill="#3a6ea8" text-anchor="middle">35</text>
<text x="214.60" y="513.60" font-size="5.8" font-family="Liberation Sans, sans-serif" fill="#d1303f" text-anchor="middle">68</text>
<text x="229.40" y="509.60" font-size="5.8" font-family="Liberation Sans, sans-serif" fill="#3a6ea8" text-anchor="middle">12</text>
<text x="223.00" y="515.60" font-size="5.8" font-family="Liberation Sans, sans-serif" fill="#d1303f" text-anchor="middle">98</text>
<text x="236.00" y="513.60" font-size="5.8" font-family="Liberation Sans, sans-serif" fill="#3a6ea8" text-anchor="middle">45</text>
<text x="260.80" y="503.60" font-size="5.8" font-family="Liberation Sans, sans-serif" fill="#d1303f" text-anchor="middle">93</text>
<text x="271.70" y="503.60" font-size="5.8" font-family="Liberation Sans, sans-serif" fill="#3a6ea8" text-anchor="middle">17</text>
<text x="248.70" y="511.40" font-size="5.8" font-family="Liberation Sans, sans-serif" fill="#d1303f" text-anchor="middle">98</text>
<text x="258.30" y="511.40" font-size="5.8" font-family="Liberation Sans, sans-serif" fill="#3a6ea8" text-anchor="middle">40</text>
<text x="252.80" y="517.80" font-size="5.8" font-family="Liberation Sans, sans-serif" fill="#d1303f" text-anchor="middle">92</text>
<text x="266.00" y="516.10" font-size="5.8" font-family="Liberation Sans, sans-serif" fill="#3a6ea8" text-anchor="middle">65</text>
<text x="275.60" y="509.40" font-size="5.8" font-family="Liberation Sans, sans-serif" fill="#d1303f" text-anchor="middle">98</text>
<text x="284.20" y="509.40" font-size="5.8" font-family="Liberation Sans, sans-serif" fill="#3a6ea8" text-anchor="middle">36</text>
<text x="232.60" y="488.50" font-size="8.2" font-family="Liberation Sans, sans-serif" fill="#111" stroke="#111" stroke-width="0.15" text-anchor="middle">3</text>
<path d="M295.40,525.50V504.80H305.50V525.50" fill="none" stroke="#5c2d82" stroke-width="1.6" stroke-linecap="square"/>
<path d="M324.00,525.50V511.50H334.50V525.50" fill="none" stroke="#5c2d82" stroke-width="1.6" stroke-linecap="square"/>
<path d="M314.80,525.50V503.80H329.20V511.50" fill="none" stroke="#5c2d82" stroke-width="1.6" stroke-linecap="square"/>
<path d="M300.40,504.80V495.50H322.00V503.80" fill="none" stroke="#5c2d82" stroke-width="1.6" stroke-linecap="square"/>
<text x="303.70" y="494.10" font-size="5.8" font-family="Liberation Sans, sans-serif" fill="#d1303f" text-anchor="middle">86</text>
<text x="314.80" y="494.10" font-size="5.8" font-family="Liberation Sans, sans-serif" fill="#3a6ea8" text-anchor="middle">3</text>
<text x="293.80" y="504.10" font-size="5.8" font-family="Liberation Sans, sans-serif" fill="#d1303f" text-anchor="middle">85</text>
<text x="304.00" y="504.10" font-size="5.8" font-family="Liberation Sans, sans-serif" fill="#3a6ea8" text-anchor="middle">10</text>
<text x="316.30" y="502.10" font-size="5.8" font-family="Liberation Sans, sans-serif" fill="#d1303f" text-anchor="middle">82</text>
<text x="326.20" y="502.10" font-size="5.8" font-family="Liberation Sans, sans-serif" fill="#3a6ea8" text-anchor="middle">32</text>
<text x="323.00" y="510.10" font-size="5.8" font-family="Liberation Sans, sans-serif" fill="#d1303f" text-anchor="middle">89</text>
<text x="333.00" y="510.10" font-size="5.8" font-family="Liberation Sans, sans-serif" fill="#3a6ea8" text-anchor="middle">74</text>
<text x="314.50" y="488.30" font-size="8.2" font-family="Liberation Sans, sans-serif" fill="#111" stroke="#111" stroke-width="0.15" text-anchor="middle">4</text>
<path d="M343.50,525.50V505.30H353.00V525.50" fill="none" stroke="#f7941d" stroke-width="1.6" stroke-linecap="square"/>
<path d="M362.50,525.50V510.50H372.90V525.50" fill="none" stroke="#f7941d" stroke-width="1.6" stroke-linecap="square"/>
<path d="M381.60,525.50V511.30H392.00V525.50" fill="none" stroke="#f7941d" stroke-width="1.6" stroke-linecap="square"/>
<path d="M401.50,525.50V510.50H410.40V525.50" fill="none" stroke="#f7941d" stroke-width="1.6" stroke-linecap="square"/>
<path d="M386.80,511.30V502.30H406.00V510.50" fill="none" stroke="#f7941d" stroke-width="1.6" stroke-linecap="square"/>
<path d="M367.70,510.50V494.00H396.40V502.30" fill="none" stroke="#f7941d" stroke-width="1.6" stroke-linecap="square"/>
<path d="M348.20,505.30V490.20H382.00V494.00" fill="none" stroke="#f7941d" stroke-width="1.6" stroke-linecap="square"/>
<text x="359.00" y="489.10" font-size="5.8" font-family="Liberation Sans, sans-serif" fill="#d1303f" text-anchor="middle">78</text>
<text x="369.00" y="489.10" font-size="5.8" font-family="Liberation Sans, sans-serif" fill="#3a6ea8" text-anchor="middle">1</text>
<text x="343.00" y="504.10" font-size="5.8" font-family="Liberation Sans, sans-serif" fill="#d1303f" text-anchor="middle">89</text>
<text x="353.40" y="504.10" font-size="5.8" font-family="Liberation Sans, sans-serif" fill="#3a6ea8" text-anchor="middle">45</text>
<text x="375.80" y="494.60" font-size="5.8" font-family="Liberation Sans, sans-serif" fill="#d1303f" text-anchor="middle">72</text>
<text x="385.70" y="493.10" font-size="5.8" font-family="Liberation Sans, sans-serif" fill="#3a6ea8" text-anchor="middle">1</text>
<text x="362.00" y="509.60" font-size="5.8" font-family="Liberation Sans, sans-serif" fill="#d1303f" text-anchor="middle">90</text>
<text x="371.50" y="509.60" font-size="5.8" font-family="Liberation Sans, sans-serif" fill="#3a6ea8" text-anchor="middle">46</text>
<text x="389.70" y="501.70" font-size="5.8" font-family="Liberation Sans, sans-serif" fill="#d1303f" text-anchor="middle">89</text>
<text x="401.00" y="501.70" font-size="5.8" font-family="Liberation Sans, sans-serif" fill="#3a6ea8" text-anchor="middle">9</text>
<text x="381.00" y="510.10" font-size="5.8" font-family="Liberation Sans, sans-serif" fill="#d1303f" text-anchor="middle">95</text>
<text x="392.00" y="510.10" font-size="5.8" font-family="Liberation Sans, sans-serif" fill="#3a6ea8" text-anchor="middle">54</text>
<text x="400.00" y="509.60" font-size="5.8" font-family="Liberation Sans, sans-serif" fill="#d1303f" text-anchor="middle">93</text>
<text x="409.60" y="509.60" font-size="5.8" font-family="Liberation Sans, sans-serif" fill="#3a6ea8" text-anchor="middle">41</text>
<text x="375.30" y="488.30" font-size="8.2" font-family="Liberation Sans, sans-serif" fill="#111" stroke="#111" stroke-width="0.15" text-anchor="middle">5</text>
<path d="M420.80,525.50V508.10H430.00V525.50" fill="none" stroke="#0e6b55" stroke-width="1.6" stroke-linecap="square"/>
<path d="M440.10,525.50V514.60H449.90V525.50" fill="none" stroke="#0e6b55" stroke-width="1.6" stroke-linecap="square"/>
<path d="M459.30,525.50V511.30H469.00V525.50" fill="none" stroke="#0e6b55" stroke-width="1.6" stroke-linecap="square"/>
<path d="M445.00,514.60V506.80H464.20V511.30" fill="none" stroke="#0e6b55" stroke-width="1.6" stroke-linecap="square"/>
<path d="M489.00,525.50V512.90H497.30V525.50" fill="none" stroke="#0e6b55" stroke-width="1.6" stroke-linecap="square"/>
<path d="M478.50,525.50V506.40H493.10V512.90" fill="none" stroke="#0e6b55" stroke-width="1.6" stroke-linecap="square"/>
<path d="M454.60,506.80V502.40H485.80V506.40" fill="none" stroke="#0e6b55" stroke-width="1.6" stroke-linecap="square"/>
<path d="M425.40,508.10V489.20H470.20V502.40" fill="none" stroke="#0e6b55" stroke-width="1.6" stroke-linecap="square"/>
<text x="442.70" y="488.10" font-size="5.8" font-family="Liberation Sans, sans-serif" fill="#d1303f" text-anchor="middle">85</text>
<text x="452.00" y="488.10" font-size="5.8" font-family="Liberation Sans, sans-serif" fill="#3a6ea8" text-anchor="middle">18</text>
<text x="419.60" y="506.70" font-size="5.8" font-family="Liberation Sans, sans-serif" fill="#d1303f" text-anchor="middle">67</text>
<text x="430.00" y="506.70" font-size="5.8" font-family="Liberation Sans, sans-serif" fill="#3a6ea8" text-anchor="middle">31</text>
<text x="463.00" y="501.10" font-size="5.8" font-family="Liberation Sans, sans-serif" fill="#d1303f" text-anchor="middle">93</text>
<text x="473.00" y="501.10" font-size="5.8" font-family="Liberation Sans, sans-serif" fill="#3a6ea8" text-anchor="middle">17</text>
<text x="447.50" y="505.60" font-size="5.8" font-family="Liberation Sans, sans-serif" fill="#d1303f" text-anchor="middle">95</text>
<text x="460.70" y="506.60" font-size="5.8" font-family="Liberation Sans, sans-serif" fill="#3a6ea8" text-anchor="middle">45</text>
<text x="437.40" y="513.60" font-size="5.8" font-family="Liberation Sans, sans-serif" fill="#d1303f" text-anchor="middle">69</text>
<text x="448.60" y="513.10" font-size="5.8" font-family="Liberation Sans, sans-serif" fill="#3a6ea8" text-anchor="middle">57</text>
<text x="455.60" y="511.70" font-size="5.8" font-family="Liberation Sans, sans-serif" fill="#d1303f" text-anchor="middle">70</text>
<text x="468.40" y="510.90" font-size="5.8" font-family="Liberation Sans, sans-serif" fill="#3a6ea8" text-anchor="middle">24</text>
<text x="480.00" y="505.60" font-size="5.8" font-family="Liberation Sans, sans-serif" fill="#d1303f" text-anchor="middle">78</text>
<text x="489.90" y="502.60" font-size="5.8" font-family="Liberation Sans, sans-serif" fill="#3a6ea8" text-anchor="middle">14</text>
<text x="486.50" y="512.60" font-size="5.8" font-family="Liberation Sans, sans-serif" fill="#d1303f" text-anchor="middle">70</text>
<text x="496.00" y="511.10" font-size="5.8" font-family="Liberation Sans, sans-serif" fill="#3a6ea8" text-anchor="middle">51</text>
<text x="462.80" y="487.80" font-size="8.2" font-family="Liberation Sans, sans-serif" fill="#111" stroke="#111" stroke-width="0.15" text-anchor="middle">6</text>
<path d="M84.4,494.4V471.9H148.6" fill="none" stroke="#c8102e" stroke-width="1.6" stroke-linecap="square"/>
<path d="M148.6,471.9H213.1V479.6" fill="none" stroke="#111" stroke-width="1.6" stroke-linecap="square"/>
<text x="144.40" y="471.10" font-size="5.8" font-family="Liberation Sans, sans-serif" fill="#d1303f" text-anchor="middle">91</text>
<text x="152.50" y="471.10" font-size="5.8" font-family="Liberation Sans, sans-serif" fill="#3a6ea8" text-anchor="middle">1</text>
<path d="M149.6,490.6V479.6H213.1" fill="none" stroke="#1f5a94" stroke-width="1.6" stroke-linecap="square"/>
<path d="M213.1,479.6H275.6V484.4" fill="none" stroke="#111" stroke-width="1.6" stroke-linecap="square"/>
<text x="209.60" y="478.80" font-size="5.8" font-family="Liberation Sans, sans-serif" fill="#d1303f" text-anchor="middle">3</text>
<text x="216.30" y="478.80" font-size="5.8" font-family="Liberation Sans, sans-serif" fill="#3a6ea8" text-anchor="middle">0</text>
<path d="M241.0,496.5V484.4H275.6" fill="none" stroke="#3db54a" stroke-width="1.6" stroke-linecap="square"/>
<path d="M275.6,484.4H311.2V495.5" fill="none" stroke="#5c2d82" stroke-width="1.6" stroke-linecap="square"/>
<text x="268.50" y="484.10" font-size="5.8" font-family="Liberation Sans, sans-serif" fill="#d1303f" text-anchor="middle">98</text>
<text x="278.80" y="484.10" font-size="5.8" font-family="Liberation Sans, sans-serif" fill="#3a6ea8" text-anchor="middle">0</text>
<path d="M148.6,471.9V455H407.1V464.5" fill="none" stroke="#111" stroke-width="1.6" stroke-linecap="square"/>
<clipPath id="rc"><rect x="250" y="450.6" width="60" height="4"/></clipPath>
<g clip-path="url(#rc)"><text x="269.7" y="454.3" font-size="5.8" font-family="Liberation Sans, sans-serif" fill="#d1303f" text-anchor="middle">au</text><text x="281" y="454.3" font-size="5.8" font-family="Liberation Sans, sans-serif" fill="#3a6ea8" text-anchor="middle">bp</text></g>
<path d="M365.8,490.2V464.5H407.1" fill="none" stroke="#f7941d" stroke-width="1.6" stroke-linecap="square"/>
<path d="M407.1,464.5H447.8V489.2" fill="none" stroke="#0e6b55" stroke-width="1.6" stroke-linecap="square"/>
<text x="401.00" y="463.60" font-size="5.8" font-family="Liberation Sans, sans-serif" fill="#d1303f" text-anchor="middle">91</text>
<text x="410.20" y="463.60" font-size="5.8" font-family="Liberation Sans, sans-serif" fill="#3a6ea8" text-anchor="middle">1</text>
<rect x="0.7" y="0.7" width="518.6" height="531.6" fill="none" stroke="#000" stroke-width="1.6"/>
</svg>
</body></html>
